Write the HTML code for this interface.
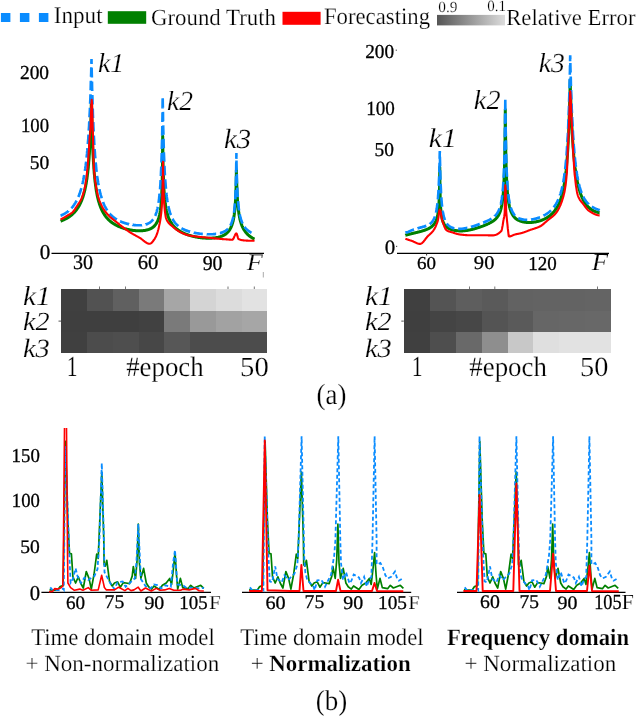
<!DOCTYPE html><html><head><meta charset="utf-8"><style>html,body{margin:0;padding:0;background:#fff;width:638px;height:716px;overflow:hidden;position:relative}</style></head><body><svg width="638" height="716" viewBox="0 0 638 716" style="display:block;position:absolute;left:0;top:0">
<defs><linearGradient id="gr" x1="0" x2="1" y1="0" y2="0"><stop offset="0" stop-color="#555"/><stop offset="1" stop-color="#dcdcdc"/></linearGradient>
<clipPath id="cb1"><rect x="0" y="428" width="638" height="300"/></clipPath>
<clipPath id="cb2"><rect x="0" y="436" width="638" height="300"/></clipPath>
</defs>
<line x1="0.9" y1="17.5" x2="58" y2="17.5" stroke="#0a8cff" stroke-width="9.2" stroke-dasharray="9.5 9.5"/>
<rect x="107.8" y="11.2" width="38.4" height="12.6" fill="#008000"/>
<rect x="282.5" y="11.8" width="38.1" height="13" fill="#ff0000"/>
<rect x="437" y="14.9" width="68" height="10.5" fill="url(#gr)"/>
<line x1="51.5" y1="253.3" x2="264" y2="253.3" stroke="#000" stroke-width="1.2"/>
<polyline points="60.6,221.2 60.8,221.1 60.9,221.0 61.1,221.0 61.2,220.9 61.4,220.8 61.6,220.8 61.7,220.7 61.9,220.7 62.1,220.6 62.2,220.5 62.4,220.4 62.5,220.4 62.7,220.3 62.9,220.2 63.0,220.2 63.2,220.1 63.3,220.0 63.5,219.9 63.7,219.9 63.8,219.8 64.0,219.7 64.2,219.6 64.3,219.6 64.5,219.5 64.6,219.4 64.8,219.3 65.0,219.2 65.1,219.2 65.3,219.1 65.5,219.0 65.6,218.9 65.8,218.8 65.9,218.7 66.1,218.6 66.3,218.6 66.4,218.5 66.6,218.4 66.7,218.3 66.9,218.2 67.1,218.1 67.2,218.0 67.4,217.9 67.6,217.8 67.7,217.7 67.9,217.6 68.0,217.5 68.2,217.4 68.4,217.3 68.5,217.2 68.7,217.1 68.8,217.0 69.0,216.9 69.2,216.8 69.3,216.6 69.5,216.5 69.7,216.4 69.8,216.3 70.0,216.2 70.1,216.1 70.3,215.9 70.5,215.8 70.6,215.7 70.8,215.6 70.9,215.4 71.1,215.3 71.3,215.2 71.4,215.1 71.6,214.9 71.8,214.8 71.9,214.6 72.1,214.5 72.2,214.4 72.4,214.2 72.6,214.1 72.7,213.9 72.9,213.8 73.1,213.6 73.2,213.5 73.4,213.3 73.5,213.2 73.7,213.0 73.9,212.8 74.0,212.7 74.2,212.5 74.3,212.3 74.5,212.1 74.7,212.0 74.8,211.8 75.0,211.6 75.2,211.4 75.3,211.2 75.5,211.0 75.6,210.8 75.8,210.7 76.0,210.5 76.1,210.2 76.3,210.0 76.4,209.8 76.6,209.6 76.8,209.4 76.9,209.2 77.1,208.9 77.3,208.7 77.4,208.5 77.6,208.2 77.7,208.0 77.9,207.8 78.1,207.5 78.2,207.2 78.4,207.0 78.6,206.7 78.7,206.4 78.9,206.2 79.0,205.9 79.2,205.6 79.4,205.3 79.5,205.0 79.7,204.7 79.8,204.4 80.0,204.1 80.2,203.7 80.3,203.4 80.5,203.1 80.7,202.7 80.8,202.4 81.0,202.0 81.1,201.6 81.3,201.2 81.5,200.9 81.6,200.5 81.8,200.1 81.9,199.6 82.1,199.2 82.3,198.8 82.4,198.3 82.6,197.9 82.8,197.4 82.9,196.9 83.1,196.4 83.2,195.9 83.4,195.4 83.6,194.8 83.7,194.3 83.9,193.7 84.0,193.1 84.2,192.5 84.4,191.9 84.5,191.2 84.7,190.6 84.9,189.9 85.0,189.2 85.2,188.4 85.3,187.7 85.5,186.9 85.7,186.1 85.8,185.2 86.0,184.4 86.2,183.5 86.3,182.5 86.5,181.5 86.6,180.5 86.8,179.5 87.0,178.4 87.1,177.2 87.3,176.0 87.4,174.8 87.6,173.5 87.8,172.1 87.9,170.7 88.1,169.2 88.3,167.6 88.4,165.9 88.6,164.1 88.7,162.3 88.9,160.3 89.1,158.2 89.2,156.0 89.4,153.6 89.5,151.1 89.7,148.4 89.9,145.5 90.0,142.4 90.2,139.0 90.4,135.3 90.5,131.3 90.7,127.0 90.8,122.2 91.0,116.9 91.2,111.1 91.3,104.5 91.5,97.1 91.5,96.6 91.6,105.9 91.8,114.6 92.0,122.1 92.1,128.6 92.3,134.3 92.5,139.4 92.6,144.0 92.8,148.1 92.9,151.9 93.1,155.3 93.3,158.4 93.4,161.3 93.6,163.9 93.8,166.4 93.9,168.7 94.1,170.8 94.2,172.8 94.4,174.7 94.6,176.4 94.7,178.1 94.9,179.7 95.0,181.1 95.2,182.5 95.4,183.9 95.5,185.1 95.7,186.3 95.9,187.5 96.0,188.6 96.2,189.6 96.3,190.6 96.5,191.6 96.7,192.5 96.8,193.4 97.0,194.2 97.1,195.0 97.3,195.8 97.5,196.6 97.6,197.3 97.8,198.0 98.0,198.7 98.1,199.3 98.3,200.0 98.4,200.6 98.6,201.2 98.8,201.7 98.9,202.3 99.1,202.8 99.3,203.4 99.4,203.9 99.6,204.4 99.7,204.8 99.9,205.3 100.1,205.8 100.2,206.2 100.4,206.6 100.5,207.0 100.7,207.5 100.9,207.9 101.0,208.2 101.2,208.6 101.4,209.0 101.5,209.4 101.7,209.7 101.8,210.0 102.0,210.4 102.2,210.7 102.3,211.0 102.5,211.3 102.6,211.7 102.8,212.0 103.0,212.3 103.1,212.5 103.3,212.8 103.5,213.1 103.6,213.4 103.8,213.6 103.9,213.9 104.1,214.2 104.3,214.4 104.4,214.7 104.6,214.9 104.7,215.1 104.9,215.4 105.1,215.6 105.2,215.8 105.4,216.0 105.6,216.3 105.7,216.5 105.9,216.7 106.0,216.9 106.2,217.1 106.4,217.3 106.5,217.5 106.7,217.7 106.9,217.9 107.0,218.0 107.2,218.2 107.3,218.4 107.5,218.6 107.7,218.8 107.8,218.9 108.0,219.1 108.1,219.3 108.3,219.4 108.5,219.6 108.6,219.7 108.8,219.9 109.0,220.1 109.1,220.2 109.3,220.4 109.4,220.5 109.6,220.7 109.8,220.8 109.9,220.9 110.1,221.1 110.2,221.2 110.4,221.4 110.6,221.5 110.7,221.6 110.9,221.7 111.1,221.9 111.2,222.0 111.4,222.1 111.5,222.3 111.7,222.4 111.9,222.5 112.0,222.6 112.2,222.7 112.3,222.8 112.5,223.0 112.7,223.1 112.8,223.2 113.0,223.3 113.2,223.4 113.3,223.5 113.5,223.6 113.6,223.7 113.8,223.8 114.0,223.9 114.1,224.0 114.3,224.1 114.5,224.2 114.6,224.3 114.8,224.4 114.9,224.5 115.1,224.6 115.3,224.7 115.4,224.8 115.6,224.9 115.7,225.0 115.9,225.1 116.1,225.2 116.2,225.2 116.4,225.3 116.6,225.4 116.7,225.5 116.9,225.6 117.0,225.7 117.2,225.7 117.4,225.8 117.5,225.9 117.7,226.0 117.8,226.1 118.0,226.1 118.2,226.2 118.3,226.3 118.5,226.4 118.7,226.4 118.8,226.5 119.0,226.6 119.1,226.6 119.3,226.7 119.5,226.8 119.6,226.8 119.8,226.9 120.0,227.0 120.1,227.0 120.3,227.1 120.4,227.2 120.6,227.2 120.8,227.3 120.9,227.4 121.1,227.4 121.2,227.5 121.4,227.5 121.6,227.6 121.7,227.7 121.9,227.7 122.1,227.8 122.2,227.8 122.4,227.9 122.5,228.0 122.7,228.0 122.9,228.1 123.0,228.1 123.2,228.2 123.3,228.2 123.5,228.3 123.7,228.3 123.8,228.4 124.0,228.4 124.2,228.5 124.3,228.5 124.5,228.6 124.6,228.6 124.8,228.7 125.0,228.7 125.1,228.8 125.3,228.8 125.4,228.9 125.6,228.9 125.8,228.9 125.9,229.0 126.1,229.0 126.3,229.1 126.4,229.1 126.6,229.2 126.7,229.2 126.9,229.2 127.1,229.3 127.2,229.3 127.4,229.4 127.6,229.4 127.7,229.4 127.9,229.5 128.0,229.5 128.2,229.5 128.4,229.6 128.5,229.6 128.7,229.6 128.8,229.7 129.0,229.7 129.2,229.7 129.3,229.8 129.5,229.8 129.7,229.8 129.8,229.9 130.0,229.9 130.1,229.9 130.3,230.0 130.5,230.0 130.6,230.0 130.8,230.1 130.9,230.1 131.1,230.1 131.3,230.1 131.4,230.2 131.6,230.2 131.8,230.2 131.9,230.2 132.1,230.3 132.2,230.3 132.4,230.3 132.6,230.3 132.7,230.4 132.9,230.4 133.0,230.4 133.2,230.4 133.4,230.4 133.5,230.5 133.7,230.5 133.9,230.5 134.0,230.5 134.2,230.5 134.3,230.6 134.5,230.6 134.7,230.6 134.8,230.6 135.0,230.6 135.2,230.6 135.3,230.6 135.5,230.7 135.6,230.7 135.8,230.7 136.0,230.7 136.1,230.7 136.3,230.7 136.4,230.7 136.6,230.7 136.8,230.7 136.9,230.8 137.1,230.8 137.3,230.8 137.4,230.8 137.6,230.8 137.7,230.8 137.9,230.8 138.1,230.8 138.2,230.8 138.4,230.8 138.5,230.8 138.7,230.8 138.9,230.8 139.0,230.8 139.2,230.8 139.4,230.8 139.5,230.8 139.7,230.8 139.8,230.8 140.0,230.8 140.2,230.8 140.3,230.8 140.5,230.8 140.7,230.8 140.8,230.8 141.0,230.8 141.1,230.8 141.3,230.8 141.5,230.8 141.6,230.8 141.8,230.8 141.9,230.7 142.1,230.7 142.3,230.7 142.4,230.7 142.6,230.7 142.8,230.7 142.9,230.7 143.1,230.6 143.2,230.6 143.4,230.6 143.6,230.6 143.7,230.6 143.9,230.6 144.0,230.5 144.2,230.5 144.4,230.5 144.5,230.5 144.7,230.4 144.9,230.4 145.0,230.4 145.2,230.4 145.3,230.3 145.5,230.3 145.7,230.3 145.8,230.2 146.0,230.2 146.1,230.2 146.3,230.1 146.5,230.1 146.6,230.1 146.8,230.0 147.0,230.0 147.1,229.9 147.3,229.9 147.4,229.8 147.6,229.8 147.8,229.8 147.9,229.7 148.1,229.7 148.3,229.6 148.4,229.6 148.6,229.5 148.7,229.4 148.9,229.4 149.1,229.3 149.2,229.3 149.4,229.2 149.5,229.1 149.7,229.1 149.9,229.0 150.0,228.9 150.2,228.9 150.4,228.8 150.5,228.7 150.7,228.6 150.8,228.5 151.0,228.5 151.2,228.4 151.3,228.3 151.5,228.2 151.6,228.1 151.8,228.0 152.0,227.9 152.1,227.8 152.3,227.7 152.5,227.6 152.6,227.5 152.8,227.3 152.9,227.2 153.1,227.1 153.3,227.0 153.4,226.8 153.6,226.7 153.7,226.6 153.9,226.4 154.1,226.3 154.2,226.1 154.4,225.9 154.6,225.8 154.7,225.6 154.9,225.4 155.0,225.2 155.2,225.0 155.4,224.8 155.5,224.6 155.7,224.4 155.9,224.2 156.0,224.0 156.2,223.7 156.3,223.5 156.5,223.2 156.7,222.9 156.8,222.7 157.0,222.4 157.1,222.1 157.3,221.7 157.5,221.4 157.6,221.0 157.8,220.7 158.0,220.3 158.1,219.9 158.3,219.4 158.4,219.0 158.6,218.5 158.8,218.0 158.9,217.4 159.1,216.8 159.2,216.2 159.4,215.5 159.6,214.8 159.7,214.0 159.9,213.2 160.1,212.3 160.2,211.3 160.4,210.2 160.5,209.0 160.7,207.7 160.9,206.3 161.0,204.6 161.2,202.8 161.4,200.6 161.5,198.2 161.7,195.2 161.8,191.7 162.0,187.3 162.2,181.8 162.3,174.2 162.5,163.4 162.6,145.5 162.7,136.1 162.8,146.6 163.0,158.2 163.1,166.5 163.3,172.9 163.5,178.0 163.6,182.2 163.8,185.7 163.9,188.7 164.1,191.3 164.3,193.6 164.4,195.7 164.6,197.5 164.7,199.2 164.9,200.7 165.1,202.1 165.2,203.3 165.4,204.5 165.6,205.6 165.7,206.6 165.9,207.6 166.0,208.5 166.2,209.3 166.4,210.1 166.5,210.8 166.7,211.5 166.8,212.2 167.0,212.8 167.2,213.5 167.3,214.0 167.5,214.6 167.7,215.1 167.8,215.6 168.0,216.1 168.1,216.6 168.3,217.0 168.5,217.4 168.6,217.9 168.8,218.3 169.0,218.6 169.1,219.0 169.3,219.4 169.4,219.7 169.6,220.1 169.8,220.4 169.9,220.7 170.1,221.0 170.2,221.3 170.4,221.6 170.6,221.9 170.7,222.2 170.9,222.4 171.1,222.7 171.2,222.9 171.4,223.2 171.5,223.4 171.7,223.7 171.9,223.9 172.0,224.1 172.2,224.3 172.3,224.6 172.5,224.8 172.7,225.0 172.8,225.2 173.0,225.4 173.2,225.6 173.3,225.8 173.5,225.9 173.6,226.1 173.8,226.3 174.0,226.5 174.1,226.6 174.3,226.8 174.4,227.0 174.6,227.1 174.8,227.3 174.9,227.4 175.1,227.6 175.3,227.8 175.4,227.9 175.6,228.0 175.7,228.2 175.9,228.3 176.1,228.5 176.2,228.6 176.4,228.7 176.6,228.9 176.7,229.0 176.9,229.1 177.0,229.3 177.2,229.4 177.4,229.5 177.5,229.6 177.7,229.7 177.8,229.9 178.0,230.0 178.2,230.1 178.3,230.2 178.5,230.3 178.7,230.4 178.8,230.5 179.0,230.6 179.1,230.7 179.3,230.8 179.5,230.9 179.6,231.0 179.8,231.1 179.9,231.2 180.1,231.3 180.3,231.4 180.4,231.5 180.6,231.6 180.8,231.7 180.9,231.8 181.1,231.9 181.2,232.0 181.4,232.0 181.6,232.1 181.7,232.2 181.9,232.3 182.1,232.4 182.2,232.5 182.4,232.5 182.5,232.6 182.7,232.7 182.9,232.8 183.0,232.9 183.2,232.9 183.3,233.0 183.5,233.1 183.7,233.2 183.8,233.2 184.0,233.3 184.2,233.4 184.3,233.4 184.5,233.5 184.6,233.6 184.8,233.7 185.0,233.7 185.1,233.8 185.3,233.9 185.4,233.9 185.6,234.0 185.8,234.0 185.9,234.1 186.1,234.2 186.3,234.2 186.4,234.3 186.6,234.4 186.7,234.4 186.9,234.5 187.1,234.5 187.2,234.6 187.4,234.6 187.5,234.7 187.7,234.8 187.9,234.8 188.0,234.9 188.2,234.9 188.4,235.0 188.5,235.0 188.7,235.1 188.8,235.1 189.0,235.2 189.2,235.2 189.3,235.3 189.5,235.3 189.7,235.4 189.8,235.4 190.0,235.5 190.1,235.5 190.3,235.6 190.5,235.6 190.6,235.7 190.8,235.7 190.9,235.8 191.1,235.8 191.3,235.9 191.4,235.9 191.6,235.9 191.8,236.0 191.9,236.0 192.1,236.1 192.2,236.1 192.4,236.2 192.6,236.2 192.7,236.2 192.9,236.3 193.0,236.3 193.2,236.4 193.4,236.4 193.5,236.4 193.7,236.5 193.9,236.5 194.0,236.5 194.2,236.6 194.3,236.6 194.5,236.6 194.7,236.7 194.8,236.7 195.0,236.8 195.1,236.8 195.3,236.8 195.5,236.9 195.6,236.9 195.8,236.9 196.0,236.9 196.1,237.0 196.3,237.0 196.4,237.0 196.6,237.1 196.8,237.1 196.9,237.1 197.1,237.2 197.3,237.2 197.4,237.2 197.6,237.2 197.7,237.3 197.9,237.3 198.1,237.3 198.2,237.4 198.4,237.4 198.5,237.4 198.7,237.4 198.9,237.5 199.0,237.5 199.2,237.5 199.4,237.5 199.5,237.5 199.7,237.6 199.8,237.6 200.0,237.6 200.2,237.6 200.3,237.7 200.5,237.7 200.6,237.7 200.8,237.7 201.0,237.7 201.1,237.8 201.3,237.8 201.5,237.8 201.6,237.8 201.8,237.8 201.9,237.8 202.1,237.9 202.3,237.9 202.4,237.9 202.6,237.9 202.8,237.9 202.9,237.9 203.1,238.0 203.2,238.0 203.4,238.0 203.6,238.0 203.7,238.0 203.9,238.0 204.0,238.0 204.2,238.1 204.4,238.1 204.5,238.1 204.7,238.1 204.9,238.1 205.0,238.1 205.2,238.1 205.3,238.1 205.5,238.1 205.7,238.1 205.8,238.2 206.0,238.2 206.1,238.2 206.3,238.2 206.5,238.2 206.6,238.2 206.8,238.2 207.0,238.2 207.1,238.2 207.3,238.2 207.4,238.2 207.6,238.2 207.8,238.2 207.9,238.2 208.1,238.2 208.2,238.2 208.4,238.2 208.6,238.2 208.7,238.2 208.9,238.2 209.1,238.2 209.2,238.2 209.4,238.2 209.5,238.2 209.7,238.2 209.9,238.2 210.0,238.2 210.2,238.2 210.4,238.2 210.5,238.2 210.7,238.2 210.8,238.2 211.0,238.2 211.2,238.2 211.3,238.2 211.5,238.2 211.6,238.2 211.8,238.1 212.0,238.1 212.1,238.1 212.3,238.1 212.5,238.1 212.6,238.1 212.8,238.1 212.9,238.1 213.1,238.1 213.3,238.0 213.4,238.0 213.6,238.0 213.7,238.0 213.9,238.0 214.1,238.0 214.2,237.9 214.4,237.9 214.6,237.9 214.7,237.9 214.9,237.9 215.0,237.8 215.2,237.8 215.4,237.8 215.5,237.8 215.7,237.7 215.8,237.7 216.0,237.7 216.2,237.7 216.3,237.6 216.5,237.6 216.7,237.6 216.8,237.6 217.0,237.5 217.1,237.5 217.3,237.5 217.5,237.4 217.6,237.4 217.8,237.4 218.0,237.3 218.1,237.3 218.3,237.3 218.4,237.2 218.6,237.2 218.8,237.1 218.9,237.1 219.1,237.1 219.2,237.0 219.4,237.0 219.6,236.9 219.7,236.9 219.9,236.8 220.1,236.8 220.2,236.7 220.4,236.7 220.5,236.6 220.7,236.6 220.9,236.5 221.0,236.5 221.2,236.4 221.3,236.3 221.5,236.3 221.7,236.2 221.8,236.1 222.0,236.1 222.2,236.0 222.3,235.9 222.5,235.9 222.6,235.8 222.8,235.7 223.0,235.6 223.1,235.6 223.3,235.5 223.5,235.4 223.6,235.3 223.8,235.2 223.9,235.1 224.1,235.1 224.3,235.0 224.4,234.9 224.6,234.8 224.7,234.7 224.9,234.6 225.1,234.5 225.2,234.4 225.4,234.2 225.6,234.1 225.7,234.0 225.9,233.9 226.0,233.8 226.2,233.6 226.4,233.5 226.5,233.4 226.7,233.2 226.8,233.1 227.0,233.0 227.2,232.8 227.3,232.6 227.5,232.5 227.7,232.3 227.8,232.2 228.0,232.0 228.1,231.8 228.3,231.6 228.5,231.4 228.6,231.2 228.8,231.0 228.9,230.8 229.1,230.6 229.3,230.4 229.4,230.1 229.6,229.9 229.8,229.6 229.9,229.4 230.1,229.1 230.2,228.8 230.4,228.5 230.6,228.2 230.7,227.9 230.9,227.6 231.1,227.2 231.2,226.9 231.4,226.5 231.5,226.1 231.7,225.7 231.9,225.3 232.0,224.8 232.2,224.3 232.3,223.8 232.5,223.3 232.7,222.7 232.8,222.1 233.0,221.5 233.2,220.8 233.3,220.1 233.5,219.3 233.6,218.5 233.8,217.6 234.0,216.6 234.1,215.6 234.3,214.4 234.4,213.2 234.6,211.8 234.8,210.3 234.9,208.6 235.1,206.6 235.3,204.5 235.4,202.0 235.6,199.1 235.7,195.6 235.9,191.5 236.1,186.3 236.2,179.7 236.4,170.7 236.4,169.9 236.5,176.9 236.7,182.8 236.9,187.6 237.0,191.6 237.2,194.9 237.4,197.8 237.5,200.3 237.7,202.5 237.8,204.5 238.0,206.3 238.2,207.9 238.3,209.4 238.5,210.7 238.7,211.9 238.8,213.1 239.0,214.1 239.1,215.1 239.3,216.0 239.5,216.9 239.6,217.7 239.8,218.4 239.9,219.2 240.1,219.8 240.3,220.5 240.4,221.1 240.6,221.7 240.8,222.2 240.9,222.8 241.1,223.3 241.2,223.8 241.4,224.2 241.6,224.7 241.7,225.1 241.9,225.5 242.0,225.9 242.2,226.3 242.4,226.7 242.5,227.0 242.7,227.4 242.9,227.7 243.0,228.0 243.2,228.3 243.3,228.6 243.5,228.9 243.7,229.2 243.8,229.5 244.0,229.8 244.2,230.0 244.3,230.3 244.5,230.5 244.6,230.8 244.8,231.0 245.0,231.2 245.1,231.5 245.3,231.7 245.4,231.9 245.6,232.1 245.8,232.3 245.9,232.5 246.1,232.7 246.3,232.9 246.4,233.1 246.6,233.3 246.7,233.4 246.9,233.6 247.1,233.8 247.2,233.9 247.4,234.1 247.5,234.3 247.7,234.4 247.9,234.6 248.0,234.7 248.2,234.9 248.4,235.0 248.5,235.2 248.7,235.3 248.8,235.4 249.0,235.6 249.2,235.7 249.3,235.8 249.5,236.0 249.6,236.1 249.8,236.2 250.0,236.3 250.1,236.5 250.3,236.6 250.5,236.7 250.6,236.8 250.8,236.9 250.9,237.0 251.1,237.1 251.3,237.3 251.4,237.4 251.6,237.5 251.8,237.6 251.9,237.7 252.1,237.8 252.2,237.9 252.4,238.0 252.6,238.1 252.7,238.2 252.9,238.2 253.0,238.3 253.2,238.4 253.4,238.5 253.5,238.6 253.7,238.7 253.9,238.8 254.0,238.9 254.2,239.0 254.3,239.0 254.5,239.1" fill="none" stroke="#008000" stroke-width="3" stroke-linejoin="round"/>
<polyline points="60.6,215.7 60.8,215.6 60.9,215.6 61.1,215.5 61.2,215.4 61.4,215.3 61.6,215.3 61.7,215.2 61.9,215.1 62.1,215.0 62.2,214.9 62.4,214.9 62.5,214.8 62.7,214.7 62.9,214.6 63.0,214.5 63.2,214.5 63.3,214.4 63.5,214.3 63.7,214.2 63.8,214.1 64.0,214.0 64.2,213.9 64.3,213.8 64.5,213.7 64.6,213.7 64.8,213.6 65.0,213.5 65.1,213.4 65.3,213.3 65.5,213.2 65.6,213.1 65.8,213.0 65.9,212.9 66.1,212.7 66.3,212.6 66.4,212.5 66.6,212.4 66.7,212.3 66.9,212.2 67.1,212.1 67.2,212.0 67.4,211.8 67.6,211.7 67.7,211.6 67.9,211.5 68.0,211.3 68.2,211.2 68.4,211.1 68.5,210.9 68.7,210.8 68.8,210.7 69.0,210.5 69.2,210.4 69.3,210.2 69.5,210.1 69.7,210.0 69.8,209.8 70.0,209.7 70.1,209.5 70.3,209.3 70.5,209.2 70.6,209.0 70.8,208.9 70.9,208.7 71.1,208.5 71.3,208.3 71.4,208.2 71.6,208.0 71.8,207.8 71.9,207.6 72.1,207.4 72.2,207.3 72.4,207.1 72.6,206.9 72.7,206.7 72.9,206.5 73.1,206.3 73.2,206.0 73.4,205.8 73.5,205.6 73.7,205.4 73.9,205.2 74.0,204.9 74.2,204.7 74.3,204.5 74.5,204.2 74.7,204.0 74.8,203.7 75.0,203.5 75.2,203.2 75.3,203.0 75.5,202.7 75.6,202.4 75.8,202.1 76.0,201.9 76.1,201.6 76.3,201.3 76.4,201.0 76.6,200.7 76.8,200.4 76.9,200.0 77.1,199.7 77.3,199.4 77.4,199.0 77.6,198.7 77.7,198.3 77.9,198.0 78.1,197.6 78.2,197.3 78.4,196.9 78.6,196.5 78.7,196.1 78.9,195.7 79.0,195.3 79.2,194.8 79.4,194.4 79.5,194.0 79.7,193.5 79.8,193.1 80.0,192.6 80.2,192.1 80.3,191.6 80.5,191.1 80.7,190.6 80.8,190.0 81.0,189.5 81.1,188.9 81.3,188.4 81.5,187.8 81.6,187.2 81.8,186.6 81.9,185.9 82.1,185.3 82.3,184.6 82.4,183.9 82.6,183.2 82.8,182.5 82.9,181.8 83.1,181.0 83.2,180.3 83.4,179.5 83.6,178.6 83.7,177.8 83.9,176.9 84.0,176.0 84.2,175.1 84.4,174.1 84.5,173.2 84.7,172.1 84.9,171.1 85.0,170.0 85.2,168.9 85.3,167.8 85.5,166.6 85.7,165.4 85.8,164.1 86.0,162.8 86.2,161.4 86.3,160.0 86.5,158.6 86.6,157.1 86.8,155.5 87.0,153.9 87.1,152.2 87.3,150.4 87.4,148.6 87.6,146.7 87.8,144.7 87.9,142.7 88.1,140.5 88.3,138.3 88.4,136.0 88.6,133.5 88.7,131.0 88.9,128.3 89.1,125.5 89.2,122.6 89.4,119.5 89.5,116.2 89.7,112.8 89.9,109.2 90.0,105.5 90.2,101.5 90.4,97.2 90.5,92.8 90.7,88.0 90.8,83.0 91.0,77.6 91.2,72.0 91.3,65.9 91.5,59.4 91.5,58.9 91.6,66.7 91.8,74.4 92.0,81.6 92.1,88.1 92.3,94.2 92.5,99.9 92.6,105.2 92.8,110.1 92.9,114.6 93.1,118.9 93.3,123.0 93.4,126.7 93.6,130.3 93.8,133.6 93.9,136.8 94.1,139.8 94.2,142.6 94.4,145.3 94.6,147.9 94.7,150.3 94.9,152.6 95.0,154.8 95.2,156.8 95.4,158.8 95.5,160.7 95.7,162.6 95.9,164.3 96.0,166.0 96.2,167.5 96.3,169.1 96.5,170.5 96.7,172.0 96.8,173.3 97.0,174.6 97.1,175.9 97.3,177.1 97.5,178.2 97.6,179.3 97.8,180.4 98.0,181.5 98.1,182.5 98.3,183.4 98.4,184.4 98.6,185.3 98.8,186.2 98.9,187.0 99.1,187.8 99.3,188.6 99.4,189.4 99.6,190.2 99.7,190.9 99.9,191.6 100.1,192.3 100.2,193.0 100.4,193.6 100.5,194.2 100.7,194.9 100.9,195.4 101.0,196.0 101.2,196.6 101.4,197.1 101.5,197.7 101.7,198.2 101.8,198.7 102.0,199.2 102.2,199.7 102.3,200.2 102.5,200.6 102.6,201.1 102.8,201.5 103.0,201.9 103.1,202.3 103.3,202.7 103.5,203.1 103.6,203.5 103.8,203.9 103.9,204.3 104.1,204.7 104.3,205.0 104.4,205.4 104.6,205.7 104.7,206.0 104.9,206.4 105.1,206.7 105.2,207.0 105.4,207.3 105.6,207.6 105.7,207.9 105.9,208.2 106.0,208.5 106.2,208.7 106.4,209.0 106.5,209.3 106.7,209.5 106.9,209.8 107.0,210.0 107.2,210.3 107.3,210.5 107.5,210.8 107.7,211.0 107.8,211.2 108.0,211.5 108.1,211.7 108.3,211.9 108.5,212.1 108.6,212.3 108.8,212.5 109.0,212.7 109.1,212.9 109.3,213.1 109.4,213.3 109.6,213.5 109.8,213.7 109.9,213.9 110.1,214.0 110.2,214.2 110.4,214.4 110.6,214.6 110.7,214.7 110.9,214.9 111.1,215.1 111.2,215.2 111.4,215.4 111.5,215.5 111.7,215.7 111.9,215.8 112.0,216.0 112.2,216.1 112.3,216.3 112.5,216.4 112.7,216.6 112.8,216.7 113.0,216.8 113.2,217.0 113.3,217.1 113.5,217.2 113.6,217.4 113.8,217.5 114.0,217.6 114.1,217.7 114.3,217.8 114.5,218.0 114.6,218.1 114.8,218.2 114.9,218.3 115.1,218.4 115.3,218.5 115.4,218.6 115.6,218.8 115.7,218.9 115.9,219.0 116.1,219.1 116.2,219.2 116.4,219.3 116.6,219.4 116.7,219.5 116.9,219.6 117.0,219.7 117.2,219.8 117.4,219.9 117.5,219.9 117.7,220.0 117.8,220.1 118.0,220.2 118.2,220.3 118.3,220.4 118.5,220.5 118.7,220.6 118.8,220.6 119.0,220.7 119.1,220.8 119.3,220.9 119.5,221.0 119.6,221.0 119.8,221.1 120.0,221.2 120.1,221.3 120.3,221.3 120.4,221.4 120.6,221.5 120.8,221.6 120.9,221.6 121.1,221.7 121.2,221.8 121.4,221.8 121.6,221.9 121.7,222.0 121.9,222.0 122.1,222.1 122.2,222.2 122.4,222.2 122.5,222.3 122.7,222.3 122.9,222.4 123.0,222.5 123.2,222.5 123.3,222.6 123.5,222.6 123.7,222.7 123.8,222.7 124.0,222.8 124.2,222.9 124.3,222.9 124.5,223.0 124.6,223.0 124.8,223.1 125.0,223.1 125.1,223.2 125.3,223.2 125.4,223.3 125.6,223.3 125.8,223.4 125.9,223.4 126.1,223.5 126.3,223.5 126.4,223.5 126.6,223.6 126.7,223.6 126.9,223.7 127.1,223.7 127.2,223.8 127.4,223.8 127.6,223.8 127.7,223.9 127.9,223.9 128.0,224.0 128.2,224.0 128.4,224.0 128.5,224.1 128.7,224.1 128.8,224.2 129.0,224.2 129.2,224.2 129.3,224.3 129.5,224.3 129.7,224.3 129.8,224.4 130.0,224.4 130.1,224.4 130.3,224.5 130.5,224.5 130.6,224.5 130.8,224.5 130.9,224.6 131.1,224.6 131.3,224.6 131.4,224.7 131.6,224.7 131.8,224.7 131.9,224.7 132.1,224.8 132.2,224.8 132.4,224.8 132.6,224.8 132.7,224.9 132.9,224.9 133.0,224.9 133.2,224.9 133.4,224.9 133.5,225.0 133.7,225.0 133.9,225.0 134.0,225.0 134.2,225.0 134.3,225.1 134.5,225.1 134.7,225.1 134.8,225.1 135.0,225.1 135.2,225.1 135.3,225.2 135.5,225.2 135.6,225.2 135.8,225.2 136.0,225.2 136.1,225.2 136.3,225.2 136.4,225.2 136.6,225.2 136.8,225.3 136.9,225.3 137.1,225.3 137.3,225.3 137.4,225.3 137.6,225.3 137.7,225.3 137.9,225.3 138.1,225.3 138.2,225.3 138.4,225.3 138.5,225.3 138.7,225.3 138.9,225.3 139.0,225.3 139.2,225.3 139.4,225.3 139.5,225.3 139.7,225.3 139.8,225.3 140.0,225.3 140.2,225.3 140.3,225.3 140.5,225.3 140.7,225.3 140.8,225.3 141.0,225.2 141.1,225.2 141.3,225.2 141.5,225.2 141.6,225.2 141.8,225.2 141.9,225.2 142.1,225.1 142.3,225.1 142.4,225.1 142.6,225.1 142.8,225.1 142.9,225.0 143.1,225.0 143.2,225.0 143.4,225.0 143.6,224.9 143.7,224.9 143.9,224.9 144.0,224.9 144.2,224.8 144.4,224.8 144.5,224.8 144.7,224.7 144.9,224.7 145.0,224.6 145.2,224.6 145.3,224.6 145.5,224.5 145.7,224.5 145.8,224.4 146.0,224.4 146.1,224.3 146.3,224.3 146.5,224.2 146.6,224.2 146.8,224.1 147.0,224.1 147.1,224.0 147.3,223.9 147.4,223.9 147.6,223.8 147.8,223.7 147.9,223.7 148.1,223.6 148.3,223.5 148.4,223.4 148.6,223.3 148.7,223.3 148.9,223.2 149.1,223.1 149.2,223.0 149.4,222.9 149.5,222.8 149.7,222.7 149.9,222.6 150.0,222.5 150.2,222.4 150.4,222.2 150.5,222.1 150.7,222.0 150.8,221.9 151.0,221.7 151.2,221.6 151.3,221.4 151.5,221.3 151.6,221.1 151.8,221.0 152.0,220.8 152.1,220.6 152.3,220.4 152.5,220.3 152.6,220.1 152.8,219.9 152.9,219.7 153.1,219.4 153.3,219.2 153.4,219.0 153.6,218.8 153.7,218.5 153.9,218.2 154.1,218.0 154.2,217.7 154.4,217.4 154.6,217.1 154.7,216.8 154.9,216.4 155.0,216.1 155.2,215.7 155.4,215.4 155.5,215.0 155.7,214.6 155.9,214.1 156.0,213.7 156.2,213.2 156.3,212.7 156.5,212.2 156.7,211.6 156.8,211.1 157.0,210.5 157.1,209.8 157.3,209.2 157.5,208.5 157.6,207.7 157.8,206.9 158.0,206.1 158.1,205.2 158.3,204.3 158.4,203.3 158.6,202.2 158.8,201.1 158.9,199.9 159.1,198.6 159.2,197.2 159.4,195.7 159.6,194.2 159.7,192.4 159.9,190.6 160.1,188.6 160.2,186.4 160.4,184.1 160.5,181.5 160.7,178.7 160.9,175.5 161.0,172.1 161.2,168.3 161.4,164.1 161.5,159.4 161.7,154.1 161.8,148.1 162.0,141.3 162.2,133.5 162.3,124.5 162.5,113.9 162.6,101.5 162.7,96.7 162.8,103.9 163.0,113.7 163.1,122.3 163.3,129.9 163.5,136.6 163.6,142.7 163.8,148.1 163.9,153.0 164.1,157.4 164.3,161.5 164.4,165.2 164.6,168.5 164.7,171.7 164.9,174.5 165.1,177.2 165.2,179.6 165.4,181.9 165.6,184.0 165.7,186.0 165.9,187.9 166.0,189.6 166.2,191.3 166.4,192.8 166.5,194.2 166.7,195.6 166.8,196.9 167.0,198.1 167.2,199.3 167.3,200.4 167.5,201.4 167.7,202.4 167.8,203.3 168.0,204.2 168.1,205.1 168.3,205.9 168.5,206.7 168.6,207.4 168.8,208.1 169.0,208.8 169.1,209.5 169.3,210.1 169.4,210.7 169.6,211.3 169.8,211.8 169.9,212.4 170.1,212.9 170.2,213.4 170.4,213.9 170.6,214.3 170.7,214.8 170.9,215.2 171.1,215.6 171.2,216.0 171.4,216.4 171.5,216.8 171.7,217.1 171.9,217.5 172.0,217.8 172.2,218.2 172.3,218.5 172.5,218.8 172.7,219.1 172.8,219.4 173.0,219.7 173.2,220.0 173.3,220.3 173.5,220.5 173.6,220.8 173.8,221.0 174.0,221.3 174.1,221.5 174.3,221.7 174.4,222.0 174.6,222.2 174.8,222.4 174.9,222.6 175.1,222.8 175.3,223.0 175.4,223.2 175.6,223.4 175.7,223.6 175.9,223.8 176.1,223.9 176.2,224.1 176.4,224.3 176.6,224.5 176.7,224.6 176.9,224.8 177.0,224.9 177.2,225.1 177.4,225.2 177.5,225.4 177.7,225.5 177.8,225.7 178.0,225.8 178.2,226.0 178.3,226.1 178.5,226.2 178.7,226.3 178.8,226.5 179.0,226.6 179.1,226.7 179.3,226.8 179.5,227.0 179.6,227.1 179.8,227.2 179.9,227.3 180.1,227.4 180.3,227.5 180.4,227.6 180.6,227.7 180.8,227.8 180.9,227.9 181.1,228.0 181.2,228.1 181.4,228.2 181.6,228.3 181.7,228.4 181.9,228.5 182.1,228.6 182.2,228.7 182.4,228.8 182.5,228.8 182.7,228.9 182.9,229.0 183.0,229.1 183.2,229.2 183.3,229.3 183.5,229.3 183.7,229.4 183.8,229.5 184.0,229.6 184.2,229.6 184.3,229.7 184.5,229.8 184.6,229.8 184.8,229.9 185.0,230.0 185.1,230.1 185.3,230.1 185.4,230.2 185.6,230.3 185.8,230.3 185.9,230.4 186.1,230.4 186.3,230.5 186.4,230.6 186.6,230.6 186.7,230.7 186.9,230.7 187.1,230.8 187.2,230.9 187.4,230.9 187.5,231.0 187.7,231.0 187.9,231.1 188.0,231.1 188.2,231.2 188.4,231.2 188.5,231.3 188.7,231.3 188.8,231.4 189.0,231.4 189.2,231.5 189.3,231.5 189.5,231.6 189.7,231.6 189.8,231.7 190.0,231.7 190.1,231.8 190.3,231.8 190.5,231.9 190.6,231.9 190.8,232.0 190.9,232.0 191.1,232.0 191.3,232.1 191.4,232.1 191.6,232.2 191.8,232.2 191.9,232.2 192.1,232.3 192.2,232.3 192.4,232.4 192.6,232.4 192.7,232.4 192.9,232.5 193.0,232.5 193.2,232.5 193.4,232.6 193.5,232.6 193.7,232.6 193.9,232.7 194.0,232.7 194.2,232.8 194.3,232.8 194.5,232.8 194.7,232.8 194.8,232.9 195.0,232.9 195.1,232.9 195.3,233.0 195.5,233.0 195.6,233.0 195.8,233.1 196.0,233.1 196.1,233.1 196.3,233.2 196.4,233.2 196.6,233.2 196.8,233.2 196.9,233.3 197.1,233.3 197.3,233.3 197.4,233.3 197.6,233.4 197.7,233.4 197.9,233.4 198.1,233.4 198.2,233.5 198.4,233.5 198.5,233.5 198.7,233.5 198.9,233.6 199.0,233.6 199.2,233.6 199.4,233.6 199.5,233.6 199.7,233.7 199.8,233.7 200.0,233.7 200.2,233.7 200.3,233.7 200.5,233.8 200.6,233.8 200.8,233.8 201.0,233.8 201.1,233.8 201.3,233.9 201.5,233.9 201.6,233.9 201.8,233.9 201.9,233.9 202.1,233.9 202.3,234.0 202.4,234.0 202.6,234.0 202.8,234.0 202.9,234.0 203.1,234.0 203.2,234.0 203.4,234.1 203.6,234.1 203.7,234.1 203.9,234.1 204.0,234.1 204.2,234.1 204.4,234.1 204.5,234.1 204.7,234.1 204.9,234.2 205.0,234.2 205.2,234.2 205.3,234.2 205.5,234.2 205.7,234.2 205.8,234.2 206.0,234.2 206.1,234.2 206.3,234.2 206.5,234.2 206.6,234.2 206.8,234.3 207.0,234.3 207.1,234.3 207.3,234.3 207.4,234.3 207.6,234.3 207.8,234.3 207.9,234.3 208.1,234.3 208.2,234.3 208.4,234.3 208.6,234.3 208.7,234.3 208.9,234.3 209.1,234.3 209.2,234.3 209.4,234.3 209.5,234.3 209.7,234.3 209.9,234.3 210.0,234.3 210.2,234.3 210.4,234.3 210.5,234.3 210.7,234.3 210.8,234.3 211.0,234.3 211.2,234.3 211.3,234.3 211.5,234.3 211.6,234.3 211.8,234.2 212.0,234.2 212.1,234.2 212.3,234.2 212.5,234.2 212.6,234.2 212.8,234.2 212.9,234.2 213.1,234.2 213.3,234.2 213.4,234.2 213.6,234.1 213.7,234.1 213.9,234.1 214.1,234.1 214.2,234.1 214.4,234.1 214.6,234.1 214.7,234.0 214.9,234.0 215.0,234.0 215.2,234.0 215.4,234.0 215.5,234.0 215.7,233.9 215.8,233.9 216.0,233.9 216.2,233.9 216.3,233.8 216.5,233.8 216.7,233.8 216.8,233.8 217.0,233.8 217.1,233.7 217.3,233.7 217.5,233.7 217.6,233.6 217.8,233.6 218.0,233.6 218.1,233.6 218.3,233.5 218.4,233.5 218.6,233.5 218.8,233.4 218.9,233.4 219.1,233.3 219.2,233.3 219.4,233.3 219.6,233.2 219.7,233.2 219.9,233.1 220.1,233.1 220.2,233.1 220.4,233.0 220.5,233.0 220.7,232.9 220.9,232.9 221.0,232.8 221.2,232.8 221.3,232.7 221.5,232.7 221.7,232.6 221.8,232.6 222.0,232.5 222.2,232.4 222.3,232.4 222.5,232.3 222.6,232.3 222.8,232.2 223.0,232.1 223.1,232.1 223.3,232.0 223.5,231.9 223.6,231.8 223.8,231.8 223.9,231.7 224.1,231.6 224.3,231.5 224.4,231.4 224.6,231.3 224.7,231.2 224.9,231.2 225.1,231.1 225.2,231.0 225.4,230.9 225.6,230.8 225.7,230.6 225.9,230.5 226.0,230.4 226.2,230.3 226.4,230.2 226.5,230.1 226.7,229.9 226.8,229.8 227.0,229.7 227.2,229.5 227.3,229.4 227.5,229.2 227.7,229.1 227.8,228.9 228.0,228.8 228.1,228.6 228.3,228.4 228.5,228.2 228.6,228.0 228.8,227.8 228.9,227.6 229.1,227.4 229.3,227.2 229.4,227.0 229.6,226.7 229.8,226.5 229.9,226.2 230.1,226.0 230.2,225.7 230.4,225.4 230.6,225.1 230.7,224.8 230.9,224.5 231.1,224.1 231.2,223.7 231.4,223.4 231.5,223.0 231.7,222.5 231.9,222.1 232.0,221.6 232.2,221.1 232.3,220.6 232.5,220.0 232.7,219.4 232.8,218.8 233.0,218.1 233.2,217.4 233.3,216.6 233.5,215.7 233.6,214.8 233.8,213.8 234.0,212.8 234.1,211.6 234.3,210.3 234.4,208.8 234.6,207.2 234.8,205.5 234.9,203.4 235.1,201.2 235.3,198.5 235.4,195.5 235.6,191.8 235.7,187.5 235.9,182.1 236.1,175.3 236.2,166.5 236.4,154.2 236.4,153.0 236.5,162.7 236.7,170.7 236.9,177.1 237.0,182.3 237.2,186.6 237.4,190.3 237.5,193.4 237.7,196.2 237.8,198.6 238.0,200.7 238.2,202.6 238.3,204.3 238.5,205.9 238.7,207.3 238.8,208.6 239.0,209.8 239.1,210.9 239.3,211.9 239.5,212.9 239.6,213.8 239.8,214.6 239.9,215.4 240.1,216.1 240.3,216.8 240.4,217.5 240.6,218.1 240.8,218.6 240.9,219.2 241.1,219.7 241.2,220.2 241.4,220.7 241.6,221.1 241.7,221.6 241.9,222.0 242.0,222.4 242.2,222.8 242.4,223.1 242.5,223.5 242.7,223.8 242.9,224.1 243.0,224.5 243.2,224.8 243.3,225.1 243.5,225.3 243.7,225.6 243.8,225.9 244.0,226.1 244.2,226.4 244.3,226.6 244.5,226.8 244.6,227.1 244.8,227.3 245.0,227.5 245.1,227.7 245.3,227.9 245.4,228.1 245.6,228.3 245.8,228.4 245.9,228.6 246.1,228.8 246.3,229.0 246.4,229.1 246.6,229.3 246.7,229.4 246.9,229.6 247.1,229.7 247.2,229.9 247.4,230.0 247.5,230.2 247.7,230.3 247.9,230.4 248.0,230.6 248.2,230.7 248.4,230.8 248.5,230.9 248.7,231.0 248.8,231.2 249.0,231.3 249.2,231.4 249.3,231.5 249.5,231.6 249.6,231.7 249.8,231.8 250.0,231.9 250.1,232.0 250.3,232.1 250.5,232.2 250.6,232.3 250.8,232.4 250.9,232.5 251.1,232.5 251.3,232.6 251.4,232.7 251.6,232.8 251.8,232.9 251.9,232.9 252.1,233.0 252.2,233.1 252.4,233.2 252.6,233.3 252.7,233.4 252.9,233.5 253.0,233.6 253.2,233.6 253.4,233.7 253.5,233.8 253.7,233.9 253.9,234.0 254.0,234.1 254.2,234.1 254.3,234.2 254.5,234.3" fill="none" stroke="#0a8cff" stroke-width="2.6" stroke-dasharray="9.5 4"/>
<polyline points="60.6,219.5 60.9,219.3 61.2,219.2 61.6,219.0 61.9,218.8 62.2,218.6 62.5,218.5 62.9,218.3 63.2,218.1 63.5,217.9 63.8,217.7 64.2,217.6 64.5,217.4 64.8,217.2 65.1,217.0 65.5,216.8 65.8,216.6 66.1,216.4 66.4,216.2 66.8,216.0 67.1,215.8 67.4,215.6 67.7,215.4 68.0,215.2 68.4,215.0 68.7,214.8 69.0,214.6 69.3,214.4 69.7,214.2 70.0,214.0 70.0,214.0 70.3,213.8 70.6,213.6 71.0,213.4 71.3,213.2 71.6,213.0 71.9,212.8 72.3,212.5 72.5,212.3 72.6,212.2 72.9,211.9 73.2,211.6 73.5,211.2 73.9,210.8 74.2,210.3 74.5,209.8 74.8,209.4 75.2,208.9 75.5,208.4 75.8,207.8 76.1,207.3 76.5,206.8 76.8,206.3 77.1,205.8 77.3,205.5 77.4,205.3 77.8,204.8 78.1,204.4 78.4,203.9 78.7,203.4 79.1,203.0 79.4,202.5 79.7,202.0 80.0,201.5 80.3,200.9 80.7,200.4 81.0,199.7 81.3,199.1 81.3,199.1 81.6,198.3 82.0,197.5 82.3,196.7 82.6,195.7 82.9,194.7 83.3,193.7 83.6,192.5 83.9,191.4 84.0,191.0 84.2,190.1 84.6,188.7 84.9,187.2 85.2,185.6 85.5,183.8 85.8,181.9 86.2,179.8 86.2,179.6 86.5,177.4 86.8,174.7 87.1,171.7 87.5,168.4 87.8,164.8 88.1,161.0 88.2,160.0 88.4,156.8 88.8,151.7 89.1,146.3 89.4,141.3 89.5,140.0 89.7,137.2 90.1,133.7 90.4,129.8 90.5,128.0 90.7,123.6 91.0,113.9 91.4,104.5 91.7,99.9 91.7,99.9 92.0,103.3 92.3,112.5 92.6,124.6 92.9,134.1 93.0,136.9 93.3,152.7 93.5,160.0 93.6,162.5 93.9,168.2 94.3,172.6 94.6,176.1 94.9,178.9 95.0,179.6 95.2,181.4 95.6,183.7 95.9,185.8 96.2,187.8 96.5,189.6 96.9,191.3 97.2,192.8 97.5,194.2 97.8,195.5 98.1,196.7 98.5,197.8 98.8,198.8 98.9,199.1 99.1,199.7 99.4,200.6 99.8,201.5 100.1,202.3 100.4,203.0 100.7,203.8 101.1,204.5 101.4,205.2 101.7,205.8 102.0,206.5 102.4,207.1 102.7,207.7 103.0,208.2 103.3,208.8 103.7,209.3 104.0,209.8 104.3,210.3 104.6,210.7 104.9,211.2 105.3,211.6 105.6,212.0 105.9,212.4 106.2,212.8 106.2,212.9 106.6,213.2 106.9,213.6 107.2,214.0 107.5,214.4 107.9,214.7 108.2,215.1 108.5,215.4 108.8,215.7 109.2,216.1 109.5,216.4 109.8,216.7 110.1,217.0 110.5,217.3 110.8,217.6 111.1,217.8 111.4,218.1 111.7,218.4 112.1,218.6 112.4,218.9 112.7,219.2 113.0,219.4 113.4,219.7 113.7,219.9 114.0,220.2 114.3,220.4 114.7,220.7 115.0,220.9 115.3,221.2 115.6,221.4 116.0,221.7 116.3,221.9 116.6,222.2 116.9,222.5 117.2,222.7 117.6,223.0 117.6,223.0 117.9,223.2 118.2,223.5 118.5,223.8 118.9,224.0 119.2,224.3 119.5,224.6 119.8,224.8 120.2,225.1 120.5,225.3 120.8,225.6 121.1,225.8 121.5,226.1 121.8,226.4 122.1,226.6 122.4,226.9 122.8,227.1 123.1,227.4 123.4,227.6 123.7,227.9 124.0,228.1 124.4,228.3 124.7,228.6 125.0,228.8 125.3,229.1 125.7,229.3 126.0,229.5 126.3,229.8 126.6,230.0 127.0,230.2 127.3,230.5 127.6,230.7 127.9,230.9 128.3,231.1 128.6,231.4 128.9,231.6 129.2,231.8 129.5,232.0 129.9,232.2 130.0,232.3 130.2,232.4 130.5,232.6 130.8,232.8 131.2,233.0 131.5,233.2 131.8,233.4 132.1,233.6 132.5,233.8 132.8,234.0 133.1,234.2 133.4,234.4 133.8,234.5 134.1,234.7 134.4,234.9 134.7,235.1 135.1,235.2 135.4,235.4 135.7,235.6 136.0,235.8 136.3,236.0 136.7,236.1 137.0,236.3 137.3,236.5 137.6,236.7 138.0,236.8 138.3,237.0 138.6,237.2 138.9,237.4 139.3,237.6 139.6,237.8 139.9,237.9 140.0,238.0 140.2,238.1 140.6,238.3 140.9,238.6 141.2,238.8 141.5,239.0 141.9,239.3 142.2,239.5 142.5,239.8 142.8,240.1 143.1,240.3 143.5,240.6 143.8,240.8 144.1,241.1 144.4,241.4 144.8,241.6 145.1,241.9 145.4,242.1 145.7,242.3 146.1,242.5 146.4,242.7 146.7,242.9 147.0,243.1 147.4,243.3 147.7,243.4 148.0,243.5 148.3,243.6 148.6,243.7 149.0,243.8 149.3,243.8 149.5,243.8 149.6,243.8 149.9,243.7 150.3,243.6 150.6,243.5 150.9,243.3 151.2,243.1 151.6,242.8 151.9,242.5 152.2,242.1 152.5,241.8 152.9,241.4 153.2,240.9 153.5,240.5 153.8,240.0 154.2,239.5 154.5,239.1 154.8,238.6 154.9,238.4 155.1,238.0 155.4,237.5 155.8,236.8 156.1,236.2 156.4,235.4 156.7,234.6 157.1,233.7 157.4,232.7 157.7,231.7 158.0,230.5 158.4,229.3 158.7,228.0 159.0,226.6 159.3,225.1 159.7,223.5 160.0,221.8 160.3,220.1 160.5,218.9 160.6,218.1 160.9,215.7 161.3,212.6 161.6,208.8 161.9,204.1 162.2,199.3 162.2,198.5 162.6,189.8 162.8,179.8 162.9,170.6 163.0,161.9 163.2,174.4 163.3,179.8 163.5,189.5 163.9,198.7 163.9,199.3 164.2,203.3 164.5,207.2 164.8,210.5 165.2,213.3 165.5,215.5 165.8,217.2 166.1,218.4 166.3,218.9 166.5,219.3 166.8,220.0 167.1,220.6 167.4,221.2 167.7,221.7 168.1,222.2 168.4,222.6 168.7,223.0 169.0,223.4 169.4,223.7 169.7,224.1 170.0,224.4 170.3,224.6 170.7,224.9 171.0,225.2 171.3,225.4 171.6,225.7 172.0,225.9 172.3,226.2 172.6,226.5 172.6,226.5 172.9,226.8 173.2,227.1 173.6,227.4 173.9,227.7 174.2,228.0 174.5,228.2 174.9,228.5 175.2,228.8 175.5,229.0 175.8,229.3 176.2,229.5 176.5,229.8 176.8,230.0 177.1,230.2 177.5,230.5 177.8,230.7 178.1,230.9 178.4,231.1 178.8,231.3 179.1,231.5 179.4,231.7 179.7,231.9 180.0,232.0 180.0,232.0 180.4,232.2 180.7,232.3 181.0,232.5 181.3,232.7 181.7,232.8 182.0,233.0 182.3,233.1 182.6,233.3 183.0,233.4 183.3,233.6 183.6,233.7 183.9,233.8 184.3,234.0 184.6,234.1 184.9,234.2 185.2,234.3 185.6,234.5 185.9,234.6 186.2,234.7 186.5,234.8 186.8,234.9 187.2,235.0 187.5,235.1 187.8,235.2 188.1,235.2 188.5,235.3 188.8,235.4 189.1,235.5 189.3,235.5 189.4,235.5 189.8,235.6 190.1,235.6 190.4,235.7 190.7,235.8 191.1,235.8 191.4,235.9 191.7,235.9 192.0,236.0 192.3,236.0 192.7,236.1 193.0,236.1 193.3,236.2 193.6,236.2 194.0,236.3 194.3,236.3 194.6,236.3 194.9,236.4 195.3,236.4 195.6,236.5 195.9,236.5 196.2,236.6 196.6,236.6 196.9,236.6 197.2,236.7 197.5,236.7 197.9,236.7 198.2,236.8 198.5,236.8 198.8,236.8 199.1,236.9 199.5,236.9 199.8,236.9 200.1,237.0 200.4,237.0 200.8,237.0 201.1,237.1 201.4,237.1 201.7,237.1 202.1,237.2 202.4,237.2 202.7,237.2 203.0,237.3 203.4,237.3 203.7,237.3 204.0,237.3 204.3,237.4 204.6,237.4 205.0,237.4 205.3,237.5 205.6,237.5 205.9,237.5 206.3,237.5 206.6,237.6 206.9,237.6 207.2,237.6 207.6,237.7 207.9,237.7 208.2,237.7 208.5,237.8 208.9,237.8 209.2,237.8 209.5,237.9 209.8,237.9 210.0,237.9 210.2,237.9 210.5,237.9 210.8,238.0 211.1,238.0 211.4,238.0 211.8,238.1 212.1,238.1 212.4,238.1 212.7,238.2 213.1,238.2 213.4,238.2 213.7,238.3 214.0,238.3 214.4,238.3 214.7,238.4 215.0,238.4 215.3,238.4 215.7,238.5 216.0,238.5 216.3,238.5 216.6,238.6 217.0,238.6 217.3,238.6 217.6,238.7 217.9,238.7 218.2,238.7 218.6,238.7 218.9,238.8 219.2,238.8 219.5,238.8 219.9,238.9 220.2,238.9 220.5,238.9 220.8,238.9 221.2,239.0 221.5,239.0 221.8,239.0 222.1,239.1 222.5,239.1 222.8,239.1 223.1,239.1 223.4,239.2 223.7,239.2 224.1,239.2 224.4,239.2 224.7,239.3 225.0,239.3 225.4,239.3 225.4,239.3 225.7,239.3 226.0,239.3 226.3,239.4 226.7,239.4 227.0,239.4 227.3,239.4 227.6,239.5 228.0,239.5 228.3,239.5 228.6,239.5 228.9,239.6 229.3,239.6 229.6,239.6 229.9,239.6 230.2,239.6 230.5,239.7 230.9,239.7 231.2,239.7 231.5,239.7 231.8,239.7 232.2,239.7 232.3,239.7 232.5,239.7 232.8,239.4 233.1,239.0 233.5,238.5 233.8,237.8 234.1,237.1 234.4,236.4 234.8,235.6 235.1,234.9 235.4,234.3 235.7,233.9 236.0,233.5 236.4,233.4 236.4,233.4 236.7,233.7 237.0,234.5 237.3,235.7 237.7,236.9 238.0,238.0 238.3,238.8 238.5,239.0 238.6,239.1 239.0,239.2 239.3,239.4 239.6,239.5 239.9,239.6 240.3,239.7 240.6,239.8 240.9,239.9 241.2,240.0 241.6,240.1 241.9,240.1 242.2,240.2 242.5,240.2 242.8,240.3 243.2,240.3 243.5,240.4 243.8,240.4 244.1,240.4 244.5,240.5 244.8,240.5 245.0,240.5 245.1,240.5 245.4,240.5 245.8,240.5 246.1,240.6 246.4,240.6 246.7,240.6 247.1,240.6 247.4,240.6 247.7,240.6 248.0,240.7 248.3,240.7 248.7,240.7 249.0,240.7 249.3,240.7 249.6,240.7 250.0,240.7 250.3,240.7 250.6,240.7 250.9,240.8 251.3,240.8 251.6,240.8 251.9,240.8 252.2,240.8 252.6,240.8 252.9,240.8 253.2,240.8 253.5,240.8 253.9,240.8 254.2,240.8 254.5,240.8" fill="none" stroke="#ff0000" stroke-width="2.1" stroke-linejoin="round"/>
<line x1="397" y1="253.4" x2="609" y2="253.4" stroke="#000" stroke-width="1.2"/>
<polyline points="405.4,235.3 405.6,235.2 405.7,235.2 405.9,235.1 406.0,235.1 406.2,235.0 406.4,235.0 406.5,235.0 406.7,234.9 406.9,234.9 407.0,234.8 407.2,234.8 407.3,234.7 407.5,234.7 407.7,234.7 407.8,234.6 408.0,234.6 408.2,234.5 408.3,234.5 408.5,234.5 408.6,234.4 408.8,234.4 409.0,234.3 409.1,234.3 409.3,234.2 409.4,234.2 409.6,234.2 409.8,234.1 409.9,234.1 410.1,234.0 410.3,234.0 410.4,234.0 410.6,233.9 410.7,233.9 410.9,233.8 411.1,233.8 411.2,233.8 411.4,233.7 411.6,233.7 411.7,233.6 411.9,233.6 412.0,233.6 412.2,233.5 412.4,233.5 412.5,233.5 412.7,233.4 412.9,233.4 413.0,233.3 413.2,233.3 413.3,233.3 413.5,233.2 413.7,233.2 413.8,233.1 414.0,233.1 414.1,233.1 414.3,233.0 414.5,233.0 414.6,232.9 414.8,232.9 415.0,232.9 415.1,232.8 415.3,232.8 415.4,232.8 415.6,232.7 415.8,232.7 415.9,232.6 416.1,232.6 416.3,232.6 416.4,232.5 416.6,232.5 416.7,232.4 416.9,232.4 417.1,232.4 417.2,232.3 417.4,232.3 417.5,232.2 417.7,232.2 417.9,232.2 418.0,232.1 418.2,232.1 418.4,232.0 418.5,232.0 418.7,232.0 418.8,231.9 419.0,231.9 419.2,231.8 419.3,231.8 419.5,231.7 419.7,231.7 419.8,231.7 420.0,231.6 420.1,231.6 420.3,231.5 420.5,231.5 420.6,231.4 420.8,231.4 420.9,231.4 421.1,231.3 421.3,231.3 421.4,231.2 421.6,231.2 421.8,231.1 421.9,231.1 422.1,231.0 422.2,231.0 422.4,230.9 422.6,230.9 422.7,230.8 422.9,230.8 423.1,230.7 423.2,230.7 423.4,230.6 423.5,230.6 423.7,230.5 423.9,230.5 424.0,230.4 424.2,230.4 424.4,230.3 424.5,230.3 424.7,230.2 424.8,230.1 425.0,230.1 425.2,230.0 425.3,230.0 425.5,229.9 425.6,229.9 425.8,229.8 426.0,229.7 426.1,229.7 426.3,229.6 426.5,229.5 426.6,229.5 426.8,229.4 426.9,229.3 427.1,229.3 427.3,229.2 427.4,229.1 427.6,229.1 427.8,229.0 427.9,228.9 428.1,228.8 428.2,228.7 428.4,228.7 428.6,228.6 428.7,228.5 428.9,228.4 429.0,228.3 429.2,228.2 429.4,228.1 429.5,228.1 429.7,228.0 429.9,227.9 430.0,227.8 430.2,227.7 430.3,227.6 430.5,227.5 430.7,227.3 430.8,227.2 431.0,227.1 431.2,227.0 431.3,226.9 431.5,226.8 431.6,226.6 431.8,226.5 432.0,226.4 432.1,226.2 432.3,226.1 432.4,225.9 432.6,225.8 432.8,225.6 432.9,225.5 433.1,225.3 433.3,225.1 433.4,224.9 433.6,224.8 433.7,224.6 433.9,224.4 434.1,224.2 434.2,223.9 434.4,223.7 434.6,223.5 434.7,223.2 434.9,223.0 435.0,222.7 435.2,222.4 435.4,222.1 435.5,221.8 435.7,221.5 435.9,221.1 436.0,220.8 436.2,220.4 436.3,219.9 436.5,219.5 436.7,219.0 436.8,218.5 437.0,218.0 437.1,217.4 437.3,216.7 437.5,216.0 437.6,215.2 437.8,214.4 438.0,213.4 438.1,212.3 438.3,211.1 438.4,209.7 438.6,208.1 438.8,206.2 438.9,204.0 439.1,201.1 439.3,197.5 439.4,192.7 439.6,185.7 439.7,174.2 439.8,167.2 439.9,180.0 440.1,191.4 440.2,198.0 440.4,202.5 440.5,205.8 440.7,208.3 440.9,210.4 441.0,212.1 441.2,213.5 441.4,214.7 441.5,215.8 441.7,216.7 441.8,217.6 442.0,218.3 442.2,219.0 442.3,219.6 442.5,220.2 442.7,220.7 442.8,221.2 443.0,221.6 443.1,222.1 443.3,222.4 443.5,222.8 443.6,223.1 443.8,223.4 443.9,223.7 444.1,224.0 444.3,224.3 444.4,224.5 444.6,224.8 444.8,225.0 444.9,225.2 445.1,225.4 445.2,225.6 445.4,225.8 445.6,226.0 445.7,226.2 445.9,226.4 446.1,226.5 446.2,226.7 446.4,226.8 446.5,227.0 446.7,227.1 446.9,227.2 447.0,227.4 447.2,227.5 447.3,227.6 447.5,227.7 447.7,227.8 447.8,227.9 448.0,228.0 448.2,228.1 448.3,228.2 448.5,228.3 448.6,228.4 448.8,228.5 449.0,228.6 449.1,228.7 449.3,228.7 449.5,228.8 449.6,228.9 449.8,229.0 449.9,229.0 450.1,229.1 450.3,229.2 450.4,229.2 450.6,229.3 450.8,229.4 450.9,229.4 451.1,229.5 451.2,229.5 451.4,229.6 451.6,229.6 451.7,229.7 451.9,229.7 452.0,229.8 452.2,229.8 452.4,229.9 452.5,229.9 452.7,230.0 452.9,230.0 453.0,230.1 453.2,230.1 453.3,230.1 453.5,230.2 453.7,230.2 453.8,230.2 454.0,230.3 454.2,230.3 454.3,230.3 454.5,230.4 454.6,230.4 454.8,230.4 455.0,230.5 455.1,230.5 455.3,230.5 455.4,230.5 455.6,230.6 455.8,230.6 455.9,230.6 456.1,230.6 456.3,230.6 456.4,230.7 456.6,230.7 456.7,230.7 456.9,230.7 457.1,230.7 457.2,230.7 457.4,230.8 457.6,230.8 457.7,230.8 457.9,230.8 458.0,230.8 458.2,230.8 458.4,230.8 458.5,230.8 458.7,230.8 458.8,230.9 459.0,230.9 459.2,230.9 459.3,230.9 459.5,230.9 459.7,230.9 459.8,230.9 460.0,230.9 460.1,230.9 460.3,230.9 460.5,230.9 460.6,230.9 460.8,230.9 461.0,230.9 461.1,230.9 461.3,230.9 461.4,230.9 461.6,230.9 461.8,230.9 461.9,230.9 462.1,230.9 462.3,230.9 462.4,230.9 462.6,230.9 462.7,230.8 462.9,230.8 463.1,230.8 463.2,230.8 463.4,230.8 463.5,230.8 463.7,230.8 463.9,230.8 464.0,230.8 464.2,230.7 464.4,230.7 464.5,230.7 464.7,230.7 464.8,230.7 465.0,230.7 465.2,230.7 465.3,230.6 465.5,230.6 465.7,230.6 465.8,230.6 466.0,230.6 466.1,230.5 466.3,230.5 466.5,230.5 466.6,230.5 466.8,230.5 466.9,230.4 467.1,230.4 467.3,230.4 467.4,230.4 467.6,230.3 467.8,230.3 467.9,230.3 468.1,230.3 468.2,230.2 468.4,230.2 468.6,230.2 468.7,230.1 468.9,230.1 469.1,230.1 469.2,230.0 469.4,230.0 469.5,230.0 469.7,229.9 469.9,229.9 470.0,229.9 470.2,229.8 470.3,229.8 470.5,229.8 470.7,229.7 470.8,229.7 471.0,229.7 471.2,229.6 471.3,229.6 471.5,229.6 471.6,229.5 471.8,229.5 472.0,229.4 472.1,229.4 472.3,229.4 472.5,229.3 472.6,229.3 472.8,229.2 472.9,229.2 473.1,229.2 473.3,229.1 473.4,229.1 473.6,229.0 473.8,229.0 473.9,228.9 474.1,228.9 474.2,228.9 474.4,228.8 474.6,228.8 474.7,228.7 474.9,228.7 475.0,228.6 475.2,228.6 475.4,228.5 475.5,228.5 475.7,228.4 475.9,228.4 476.0,228.3 476.2,228.3 476.3,228.3 476.5,228.2 476.7,228.2 476.8,228.1 477.0,228.1 477.2,228.0 477.3,228.0 477.5,227.9 477.6,227.8 477.8,227.8 478.0,227.7 478.1,227.7 478.3,227.6 478.4,227.6 478.6,227.5 478.8,227.5 478.9,227.4 479.1,227.4 479.3,227.3 479.4,227.3 479.6,227.2 479.7,227.2 479.9,227.1 480.1,227.0 480.2,227.0 480.4,226.9 480.6,226.9 480.7,226.8 480.9,226.8 481.0,226.7 481.2,226.6 481.4,226.6 481.5,226.5 481.7,226.5 481.8,226.4 482.0,226.3 482.2,226.3 482.3,226.2 482.5,226.2 482.7,226.1 482.8,226.0 483.0,226.0 483.1,225.9 483.3,225.9 483.5,225.8 483.6,225.7 483.8,225.7 484.0,225.6 484.1,225.5 484.3,225.5 484.4,225.4 484.6,225.3 484.8,225.3 484.9,225.2 485.1,225.2 485.3,225.1 485.4,225.0 485.6,225.0 485.7,224.9 485.9,224.8 486.1,224.7 486.2,224.7 486.4,224.6 486.5,224.5 486.7,224.5 486.9,224.4 487.0,224.3 487.2,224.3 487.4,224.2 487.5,224.1 487.7,224.0 487.8,224.0 488.0,223.9 488.2,223.8 488.3,223.7 488.5,223.7 488.7,223.6 488.8,223.5 489.0,223.4 489.1,223.3 489.3,223.3 489.5,223.2 489.6,223.1 489.8,223.0 489.9,222.9 490.1,222.8 490.3,222.8 490.4,222.7 490.6,222.6 490.8,222.5 490.9,222.4 491.1,222.3 491.2,222.2 491.4,222.1 491.6,222.0 491.7,221.9 491.9,221.8 492.1,221.7 492.2,221.6 492.4,221.5 492.5,221.4 492.7,221.3 492.9,221.2 493.0,221.1 493.2,221.0 493.3,220.9 493.5,220.8 493.7,220.6 493.8,220.5 494.0,220.4 494.2,220.3 494.3,220.2 494.5,220.0 494.6,219.9 494.8,219.8 495.0,219.6 495.1,219.5 495.3,219.3 495.5,219.2 495.6,219.0 495.8,218.9 495.9,218.7 496.1,218.5 496.3,218.3 496.4,218.2 496.6,218.0 496.8,217.8 496.9,217.6 497.1,217.4 497.2,217.2 497.4,217.0 497.6,216.7 497.7,216.5 497.9,216.3 498.0,216.0 498.2,215.8 498.4,215.5 498.5,215.2 498.7,214.9 498.9,214.6 499.0,214.3 499.2,214.0 499.3,213.6 499.5,213.2 499.7,212.9 499.8,212.5 500.0,212.0 500.2,211.6 500.3,211.1 500.5,210.6 500.6,210.1 500.8,209.5 501.0,208.9 501.1,208.3 501.3,207.6 501.4,206.9 501.6,206.2 501.8,205.3 501.9,204.4 502.1,203.5 502.3,202.4 502.4,201.3 502.6,200.1 502.7,198.7 502.9,197.3 503.1,195.6 503.2,193.8 503.4,191.8 503.6,189.5 503.7,186.9 503.9,183.9 504.0,180.5 504.2,176.6 504.4,171.9 504.5,166.2 504.7,159.4 504.8,150.8 505.0,139.7 505.2,125.1 505.3,109.6 505.3,113.8 505.5,130.1 505.7,142.3 505.8,151.8 506.0,159.4 506.1,165.7 506.3,170.9 506.5,175.3 506.6,179.1 506.8,182.4 507.0,185.2 507.1,187.8 507.3,190.0 507.4,192.1 507.6,193.9 507.8,195.5 507.9,197.0 508.1,198.4 508.2,199.6 508.4,200.8 508.6,201.8 508.7,202.8 508.9,203.7 509.1,204.6 509.2,205.4 509.4,206.1 509.5,206.8 509.7,207.5 509.9,208.1 510.0,208.7 510.2,209.2 510.4,209.8 510.5,210.2 510.7,210.7 510.8,211.2 511.0,211.6 511.2,212.0 511.3,212.4 511.5,212.7 511.7,213.1 511.8,213.4 512.0,213.7 512.1,214.0 512.3,214.3 512.5,214.6 512.6,214.9 512.8,215.1 512.9,215.4 513.1,215.6 513.3,215.9 513.4,216.1 513.6,216.3 513.8,216.5 513.9,216.7 514.1,216.9 514.2,217.1 514.4,217.3 514.6,217.4 514.7,217.6 514.9,217.8 515.1,217.9 515.2,218.1 515.4,218.2 515.5,218.4 515.7,218.5 515.9,218.6 516.0,218.8 516.2,218.9 516.3,219.0 516.5,219.1 516.7,219.2 516.8,219.3 517.0,219.5 517.2,219.6 517.3,219.7 517.5,219.8 517.6,219.9 517.8,219.9 518.0,220.0 518.1,220.1 518.3,220.2 518.5,220.3 518.6,220.4 518.8,220.5 518.9,220.5 519.1,220.6 519.3,220.7 519.4,220.7 519.6,220.8 519.7,220.9 519.9,220.9 520.1,221.0 520.2,221.1 520.4,221.1 520.6,221.2 520.7,221.2 520.9,221.3 521.0,221.3 521.2,221.4 521.4,221.4 521.5,221.5 521.7,221.5 521.9,221.6 522.0,221.6 522.2,221.7 522.3,221.7 522.5,221.8 522.7,221.8 522.8,221.8 523.0,221.9 523.2,221.9 523.3,221.9 523.5,222.0 523.6,222.0 523.8,222.0 524.0,222.1 524.1,222.1 524.3,222.1 524.4,222.1 524.6,222.2 524.8,222.2 524.9,222.2 525.1,222.2 525.3,222.2 525.4,222.3 525.6,222.3 525.7,222.3 525.9,222.3 526.1,222.3 526.2,222.4 526.4,222.4 526.6,222.4 526.7,222.4 526.9,222.4 527.0,222.4 527.2,222.4 527.4,222.4 527.5,222.4 527.7,222.4 527.8,222.5 528.0,222.5 528.2,222.5 528.3,222.5 528.5,222.5 528.7,222.5 528.8,222.5 529.0,222.5 529.1,222.5 529.3,222.5 529.5,222.5 529.6,222.5 529.8,222.5 530.0,222.5 530.1,222.5 530.3,222.5 530.4,222.5 530.6,222.4 530.8,222.4 530.9,222.4 531.1,222.4 531.2,222.4 531.4,222.4 531.6,222.4 531.7,222.4 531.9,222.4 532.1,222.4 532.2,222.3 532.4,222.3 532.5,222.3 532.7,222.3 532.9,222.3 533.0,222.3 533.2,222.2 533.4,222.2 533.5,222.2 533.7,222.2 533.8,222.2 534.0,222.1 534.2,222.1 534.3,222.1 534.5,222.1 534.7,222.0 534.8,222.0 535.0,222.0 535.1,222.0 535.3,221.9 535.5,221.9 535.6,221.9 535.8,221.9 535.9,221.8 536.1,221.8 536.3,221.8 536.4,221.7 536.6,221.7 536.8,221.7 536.9,221.6 537.1,221.6 537.2,221.6 537.4,221.5 537.6,221.5 537.7,221.4 537.9,221.4 538.1,221.4 538.2,221.3 538.4,221.3 538.5,221.2 538.7,221.2 538.9,221.1 539.0,221.1 539.2,221.1 539.3,221.0 539.5,221.0 539.7,220.9 539.8,220.9 540.0,220.8 540.2,220.8 540.3,220.7 540.5,220.7 540.6,220.6 540.8,220.5 541.0,220.5 541.1,220.4 541.3,220.4 541.5,220.3 541.6,220.3 541.8,220.2 541.9,220.1 542.1,220.1 542.3,220.0 542.4,219.9 542.6,219.9 542.7,219.8 542.9,219.7 543.1,219.7 543.2,219.6 543.4,219.5 543.6,219.5 543.7,219.4 543.9,219.3 544.0,219.2 544.2,219.2 544.4,219.1 544.5,219.0 544.7,218.9 544.9,218.9 545.0,218.8 545.2,218.7 545.3,218.6 545.5,218.5 545.7,218.4 545.8,218.3 546.0,218.3 546.2,218.2 546.3,218.1 546.5,218.0 546.6,217.9 546.8,217.8 547.0,217.7 547.1,217.6 547.3,217.5 547.4,217.4 547.6,217.3 547.8,217.2 547.9,217.1 548.1,217.0 548.3,216.8 548.4,216.7 548.6,216.6 548.7,216.5 548.9,216.4 549.1,216.3 549.2,216.2 549.4,216.0 549.6,215.9 549.7,215.8 549.9,215.7 550.0,215.5 550.2,215.4 550.4,215.3 550.5,215.1 550.7,215.0 550.8,214.8 551.0,214.7 551.2,214.6 551.3,214.4 551.5,214.3 551.7,214.1 551.8,214.0 552.0,213.8 552.1,213.6 552.3,213.5 552.5,213.3 552.6,213.2 552.8,213.0 553.0,212.8 553.1,212.6 553.3,212.5 553.4,212.3 553.6,212.1 553.8,211.9 553.9,211.7 554.1,211.5 554.2,211.3 554.4,211.1 554.6,210.9 554.7,210.7 554.9,210.5 555.1,210.3 555.2,210.1 555.4,209.8 555.5,209.6 555.7,209.4 555.9,209.1 556.0,208.9 556.2,208.7 556.4,208.4 556.5,208.1 556.7,207.9 556.8,207.6 557.0,207.3 557.2,207.1 557.3,206.8 557.5,206.5 557.7,206.2 557.8,205.9 558.0,205.6 558.1,205.3 558.3,204.9 558.5,204.6 558.6,204.3 558.8,203.9 558.9,203.5 559.1,203.2 559.3,202.8 559.4,202.4 559.6,202.0 559.8,201.6 559.9,201.2 560.1,200.8 560.2,200.4 560.4,199.9 560.6,199.5 560.7,199.0 560.9,198.5 561.1,198.0 561.2,197.5 561.4,197.0 561.5,196.4 561.7,195.9 561.9,195.3 562.0,194.7 562.2,194.1 562.3,193.5 562.5,192.8 562.7,192.1 562.8,191.5 563.0,190.7 563.2,190.0 563.3,189.2 563.5,188.4 563.6,187.6 563.8,186.8 564.0,185.9 564.1,185.0 564.3,184.0 564.5,183.1 564.6,182.0 564.8,181.0 564.9,179.9 565.1,178.7 565.3,177.5 565.4,176.3 565.6,175.0 565.7,173.6 565.9,172.2 566.1,170.7 566.2,169.1 566.4,167.5 566.6,165.8 566.7,164.0 566.9,162.1 567.0,160.1 567.2,157.9 567.4,155.7 567.5,153.4 567.7,150.9 567.9,148.2 568.0,145.4 568.2,142.4 568.3,139.3 568.5,135.9 568.7,132.3 568.8,128.4 569.0,124.2 569.1,119.8 569.3,114.9 569.5,109.7 569.6,104.1 569.8,97.9 570.0,91.2 570.1,83.9 570.2,80.1 570.3,83.3 570.4,89.1 570.6,94.5 570.8,99.6 570.9,104.4 571.1,108.8 571.3,113.0 571.4,116.9 571.6,120.6 571.7,124.0 571.9,127.3 572.1,130.4 572.2,133.4 572.4,136.1 572.6,138.8 572.7,141.3 572.9,143.7 573.0,146.0 573.2,148.1 573.4,150.2 573.5,152.2 573.7,154.1 573.8,155.9 574.0,157.6 574.2,159.3 574.3,160.8 574.5,162.4 574.7,163.8 574.8,165.2 575.0,166.6 575.1,167.9 575.3,169.2 575.5,170.4 575.6,171.5 575.8,172.6 576.0,173.7 576.1,174.8 576.3,175.8 576.4,176.8 576.6,177.7 576.8,178.6 576.9,179.5 577.1,180.4 577.2,181.2 577.4,182.0 577.6,182.8 577.7,183.5 577.9,184.2 578.1,185.0 578.2,185.6 578.4,186.3 578.5,187.0 578.7,187.6 578.9,188.2 579.0,188.8 579.2,189.4 579.4,190.0 579.5,190.5 579.7,191.0 579.8,191.6 580.0,192.1 580.2,192.6 580.3,193.0 580.5,193.5 580.6,194.0 580.8,194.4 581.0,194.9 581.1,195.3 581.3,195.7 581.5,196.1 581.6,196.5 581.8,196.9 581.9,197.2 582.1,197.6 582.3,198.0 582.4,198.3 582.6,198.7 582.8,199.0 582.9,199.3 583.1,199.7 583.2,200.0 583.4,200.3 583.6,200.6 583.7,200.9 583.9,201.1 584.1,201.4 584.2,201.7 584.4,202.0 584.5,202.2 584.7,202.5 584.9,202.7 585.0,203.0 585.2,203.2 585.3,203.5 585.5,203.7 585.7,203.9 585.8,204.1 586.0,204.4 586.2,204.6 586.3,204.8 586.5,205.0 586.6,205.2 586.8,205.4 587.0,205.6 587.1,205.8 587.3,205.9 587.5,206.1 587.6,206.3 587.8,206.5 587.9,206.7 588.1,206.8 588.3,207.0 588.4,207.1 588.6,207.3 588.7,207.5 588.9,207.6 589.1,207.7 589.2,207.9 589.4,208.0 589.6,208.2 589.7,208.3 589.9,208.4 590.0,208.6 590.2,208.7 590.4,208.8 590.5,209.0 590.7,209.1 590.9,209.2 591.0,209.3 591.2,209.4 591.3,209.5 591.5,209.6 591.7,209.7 591.8,209.8 592.0,210.0 592.1,210.1 592.3,210.1 592.5,210.2 592.6,210.3 592.8,210.4 593.0,210.5 593.1,210.6 593.3,210.7 593.4,210.8 593.6,210.9 593.8,210.9 593.9,211.0 594.1,211.1 594.3,211.2 594.4,211.2 594.6,211.3 594.7,211.4 594.9,211.4 595.1,211.5 595.2,211.6 595.4,211.6 595.6,211.7 595.7,211.8 595.9,211.8 596.0,211.9 596.2,211.9 596.4,212.0 596.5,212.0 596.7,212.1 596.8,212.1 597.0,212.2 597.2,212.2 597.3,212.3 597.5,212.3 597.7,212.3 597.8,212.4 598.0,212.4 598.1,212.5 598.3,212.5 598.5,212.5 598.6,212.6 598.8,212.6 599.0,212.6 599.1,212.7 599.3,212.7 599.4,212.7 599.6,212.7" fill="none" stroke="#008000" stroke-width="3" stroke-linejoin="round"/>
<polyline points="405.4,232.6 405.6,232.5 405.7,232.5 405.9,232.5 406.0,232.5 406.2,232.5 406.4,232.4 406.5,232.4 406.7,232.4 406.9,232.4 407.0,232.4 407.2,232.3 407.3,232.3 407.5,232.3 407.7,232.2 407.8,232.1 408.0,232.0 408.2,232.0 408.3,231.9 408.5,231.8 408.6,231.7 408.8,231.6 409.0,231.6 409.1,231.5 409.3,231.4 409.4,231.3 409.6,231.3 409.8,231.2 409.9,231.1 410.1,231.0 410.3,231.0 410.4,230.9 410.6,230.8 410.7,230.8 410.9,230.7 411.1,230.6 411.2,230.5 411.4,230.5 411.6,230.4 411.7,230.3 411.9,230.3 412.0,230.2 412.2,230.2 412.4,230.1 412.5,230.0 412.7,230.0 412.9,229.9 413.0,229.8 413.2,229.8 413.3,229.7 413.5,229.7 413.7,229.6 413.8,229.6 414.0,229.5 414.1,229.4 414.3,229.4 414.5,229.3 414.6,229.3 414.8,229.2 415.0,229.2 415.1,229.1 415.3,229.1 415.4,229.0 415.6,229.0 415.8,228.9 415.9,228.9 416.1,228.8 416.3,228.8 416.4,228.7 416.6,228.7 416.7,228.6 416.9,228.6 417.1,228.5 417.2,228.5 417.4,228.4 417.5,228.4 417.7,228.3 417.9,228.3 418.0,228.2 418.2,228.2 418.4,228.1 418.5,228.1 418.7,228.0 418.8,228.0 419.0,228.0 419.2,227.9 419.3,227.9 419.5,227.8 419.7,227.8 419.8,227.7 420.0,227.7 420.1,227.6 420.3,227.6 420.5,227.6 420.6,227.5 420.8,227.5 420.9,227.4 421.1,227.4 421.3,227.3 421.4,227.3 421.6,227.2 421.8,227.2 421.9,227.2 422.1,227.1 422.2,227.1 422.4,227.0 422.6,227.0 422.7,226.9 422.9,226.9 423.1,226.8 423.2,226.8 423.4,226.7 423.5,226.7 423.7,226.7 423.9,226.6 424.0,226.6 424.2,226.5 424.4,226.5 424.5,226.4 424.7,226.4 424.8,226.3 425.0,226.2 425.2,226.2 425.3,226.1 425.5,226.1 425.6,226.0 425.8,226.0 426.0,225.9 426.1,225.9 426.3,225.8 426.5,225.7 426.6,225.7 426.8,225.6 426.9,225.5 427.1,225.5 427.3,225.4 427.4,225.3 427.6,225.2 427.8,225.2 427.9,225.1 428.1,225.0 428.2,224.9 428.4,224.8 428.6,224.8 428.7,224.7 428.9,224.6 429.0,224.5 429.2,224.4 429.4,224.3 429.5,224.2 429.7,224.1 429.9,224.0 430.0,223.8 430.2,223.7 430.3,223.6 430.5,223.5 430.7,223.3 430.8,223.2 431.0,223.0 431.2,222.9 431.3,222.7 431.5,222.6 431.6,222.4 431.8,222.2 432.0,222.0 432.1,221.9 432.3,221.7 432.4,221.4 432.6,221.2 432.8,221.0 432.9,220.7 433.1,220.5 433.3,220.2 433.4,219.9 433.6,219.7 433.7,219.3 433.9,219.0 434.1,218.7 434.2,218.3 434.4,217.9 434.6,217.5 434.7,217.1 434.9,216.6 435.0,216.2 435.2,215.6 435.4,215.1 435.5,214.5 435.7,213.9 435.9,213.2 436.0,212.5 436.2,211.8 436.3,211.0 436.5,210.1 436.7,209.1 436.8,208.1 437.0,207.0 437.1,205.8 437.3,204.5 437.5,203.1 437.6,201.6 437.8,199.9 438.0,198.0 438.1,195.9 438.3,193.7 438.4,191.1 438.6,188.3 438.8,185.1 438.9,181.5 439.1,177.5 439.3,172.8 439.4,167.5 439.6,161.4 439.7,154.2 439.8,151.1 439.9,156.6 440.1,164.4 440.2,170.9 440.4,176.5 440.5,181.3 440.7,185.4 440.9,189.1 441.0,192.3 441.2,195.1 441.4,197.6 441.5,199.8 441.7,201.8 441.8,203.6 442.0,205.3 442.2,206.8 442.3,208.1 442.5,209.4 442.7,210.5 442.8,211.5 443.0,212.5 443.1,213.4 443.3,214.2 443.5,215.0 443.6,215.7 443.8,216.4 443.9,217.0 444.1,217.6 444.3,218.1 444.4,218.6 444.6,219.1 444.8,219.6 444.9,220.0 445.1,220.4 445.2,220.8 445.4,221.1 445.6,221.5 445.7,221.8 445.9,222.1 446.1,222.4 446.2,222.7 446.4,222.9 446.5,223.2 446.7,223.4 446.9,223.7 447.0,223.9 447.2,224.1 447.3,224.3 447.5,224.5 447.7,224.7 447.8,224.8 448.0,225.0 448.2,225.2 448.3,225.3 448.5,225.5 448.6,225.6 448.8,225.8 449.0,225.9 449.1,226.0 449.3,226.2 449.5,226.3 449.6,226.4 449.8,226.5 449.9,226.6 450.1,226.7 450.3,226.8 450.4,226.9 450.6,227.0 450.8,227.1 450.9,227.2 451.1,227.3 451.2,227.3 451.4,227.4 451.6,227.5 451.7,227.6 451.9,227.6 452.0,227.7 452.2,227.8 452.4,227.8 452.5,227.9 452.7,227.9 452.9,228.0 453.0,228.0 453.2,228.1 453.3,228.1 453.5,228.2 453.7,228.2 453.8,228.3 454.0,228.3 454.2,228.4 454.3,228.4 454.5,228.4 454.6,228.5 454.8,228.5 455.0,228.5 455.1,228.6 455.3,228.6 455.4,228.6 455.6,228.7 455.8,228.7 455.9,228.7 456.1,228.7 456.3,228.7 456.4,228.8 456.6,228.8 456.7,228.8 456.9,228.8 457.1,228.8 457.2,228.8 457.4,228.9 457.6,228.9 457.7,228.9 457.9,228.9 458.0,228.9 458.2,228.9 458.4,228.9 458.5,228.9 458.7,228.9 458.8,228.9 459.0,228.9 459.2,228.9 459.3,228.9 459.5,228.9 459.7,228.9 459.8,228.9 460.0,228.9 460.1,228.9 460.3,228.9 460.5,228.9 460.6,228.9 460.8,228.9 461.0,228.9 461.1,228.8 461.3,228.8 461.4,228.8 461.6,228.8 461.8,228.8 461.9,228.8 462.1,228.8 462.3,228.7 462.4,228.7 462.6,228.7 462.7,228.7 462.9,228.7 463.1,228.7 463.2,228.6 463.4,228.6 463.5,228.6 463.7,228.6 463.9,228.5 464.0,228.5 464.2,228.5 464.4,228.5 464.5,228.4 464.7,228.4 464.8,228.4 465.0,228.4 465.2,228.3 465.3,228.3 465.5,228.3 465.7,228.2 465.8,228.2 466.0,228.2 466.1,228.1 466.3,228.1 466.5,228.1 466.6,228.0 466.8,228.0 466.9,228.0 467.1,227.9 467.3,227.9 467.4,227.9 467.6,227.8 467.8,227.8 467.9,227.8 468.1,227.7 468.2,227.7 468.4,227.6 468.6,227.6 468.7,227.6 468.9,227.5 469.1,227.5 469.2,227.4 469.4,227.4 469.5,227.3 469.7,227.3 469.9,227.3 470.0,227.2 470.2,227.2 470.3,227.1 470.5,227.1 470.7,227.0 470.8,227.0 471.0,227.0 471.2,226.9 471.3,226.9 471.5,226.8 471.6,226.8 471.8,226.7 472.0,226.7 472.1,226.6 472.3,226.6 472.5,226.5 472.6,226.5 472.8,226.4 472.9,226.4 473.1,226.3 473.3,226.3 473.4,226.2 473.6,226.2 473.8,226.1 473.9,226.1 474.1,226.0 474.2,226.0 474.4,225.9 474.6,225.9 474.7,225.8 474.9,225.7 475.0,225.7 475.2,225.6 475.4,225.6 475.5,225.5 475.7,225.5 475.9,225.4 476.0,225.4 476.2,225.3 476.3,225.3 476.5,225.2 476.7,225.1 476.8,225.1 477.0,225.0 477.2,225.0 477.3,224.9 477.5,224.9 477.6,224.8 477.8,224.7 478.0,224.7 478.1,224.6 478.3,224.6 478.4,224.5 478.6,224.4 478.8,224.4 478.9,224.3 479.1,224.3 479.3,224.2 479.4,224.1 479.6,224.1 479.7,224.0 479.9,224.0 480.1,223.9 480.2,223.8 480.4,223.8 480.6,223.7 480.7,223.7 480.9,223.6 481.0,223.5 481.2,223.5 481.4,223.4 481.5,223.3 481.7,223.3 481.8,223.2 482.0,223.1 482.2,223.1 482.3,223.0 482.5,223.0 482.7,222.9 482.8,222.8 483.0,222.8 483.1,222.7 483.3,222.6 483.5,222.6 483.6,222.5 483.8,222.4 484.0,222.4 484.1,222.3 484.3,222.2 484.4,222.2 484.6,222.1 484.8,222.0 484.9,221.9 485.1,221.9 485.3,221.8 485.4,221.7 485.6,221.7 485.7,221.6 485.9,221.5 486.1,221.4 486.2,221.4 486.4,221.3 486.5,221.2 486.7,221.1 486.9,221.1 487.0,221.0 487.2,220.9 487.4,220.8 487.5,220.8 487.7,220.7 487.8,220.6 488.0,220.5 488.2,220.5 488.3,220.4 488.5,220.3 488.7,220.2 488.8,220.1 489.0,220.0 489.1,220.0 489.3,219.9 489.5,219.8 489.6,219.7 489.8,219.6 489.9,219.5 490.1,219.4 490.3,219.3 490.4,219.2 490.6,219.2 490.8,219.1 490.9,219.0 491.1,218.9 491.2,218.8 491.4,218.7 491.6,218.6 491.7,218.5 491.9,218.4 492.1,218.2 492.2,218.1 492.4,218.0 492.5,217.9 492.7,217.8 492.9,217.7 493.0,217.6 493.2,217.4 493.3,217.3 493.5,217.2 493.7,217.1 493.8,216.9 494.0,216.8 494.2,216.7 494.3,216.5 494.5,216.4 494.6,216.2 494.8,216.1 495.0,215.9 495.1,215.8 495.3,215.6 495.5,215.4 495.6,215.2 495.8,215.1 495.9,214.9 496.1,214.7 496.3,214.5 496.4,214.3 496.6,214.1 496.8,213.9 496.9,213.6 497.1,213.4 497.2,213.2 497.4,212.9 497.6,212.7 497.7,212.4 497.9,212.1 498.0,211.8 498.2,211.5 498.4,211.2 498.5,210.9 498.7,210.5 498.9,210.2 499.0,209.8 499.2,209.4 499.3,209.0 499.5,208.5 499.7,208.0 499.8,207.6 500.0,207.0 500.2,206.5 500.3,205.9 500.5,205.3 500.6,204.7 500.8,204.0 501.0,203.2 501.1,202.5 501.3,201.6 501.4,200.7 501.6,199.8 501.8,198.7 501.9,197.6 502.1,196.4 502.3,195.1 502.4,193.7 502.6,192.1 502.7,190.5 502.9,188.6 503.1,186.6 503.2,184.3 503.4,181.8 503.6,179.0 503.7,175.8 503.9,172.2 504.0,168.2 504.2,163.5 504.4,158.1 504.5,151.8 504.7,144.4 504.8,135.5 505.0,124.6 505.2,111.3 505.3,98.3 505.3,102.0 505.5,116.9 505.7,128.8 505.8,138.7 506.0,146.8 506.1,153.7 506.3,159.6 506.5,164.7 506.6,169.1 506.8,173.0 507.0,176.4 507.1,179.5 507.3,182.2 507.4,184.6 507.6,186.8 507.8,188.8 507.9,190.7 508.1,192.3 508.2,193.9 508.4,195.3 508.6,196.6 508.7,197.8 508.9,198.9 509.1,199.9 509.2,200.9 509.4,201.8 509.5,202.6 509.7,203.4 509.9,204.1 510.0,204.8 510.2,205.5 510.4,206.1 510.5,206.7 510.7,207.3 510.8,207.8 511.0,208.3 511.2,208.8 511.3,209.2 511.5,209.6 511.7,210.0 511.8,210.4 512.0,210.8 512.1,211.2 512.3,211.5 512.5,211.8 512.6,212.1 512.8,212.4 512.9,212.7 513.1,213.0 513.3,213.3 513.4,213.5 513.6,213.7 513.8,214.0 513.9,214.2 514.1,214.4 514.2,214.6 514.4,214.8 514.6,215.0 514.7,215.2 514.9,215.4 515.1,215.6 515.2,215.7 515.4,215.9 515.5,216.0 515.7,216.2 515.9,216.3 516.0,216.5 516.2,216.6 516.3,216.7 516.5,216.9 516.7,217.0 516.8,217.1 517.0,217.2 517.2,217.3 517.3,217.4 517.5,217.5 517.6,217.6 517.8,217.7 518.0,217.8 518.1,217.9 518.3,218.0 518.5,218.1 518.6,218.2 518.8,218.2 518.9,218.3 519.1,218.4 519.3,218.5 519.4,218.5 519.6,218.6 519.7,218.7 519.9,218.7 520.1,218.8 520.2,218.8 520.4,218.9 520.6,218.9 520.7,219.0 520.9,219.0 521.0,219.1 521.2,219.1 521.4,219.2 521.5,219.2 521.7,219.3 521.9,219.3 522.0,219.3 522.2,219.4 522.3,219.4 522.5,219.4 522.7,219.5 522.8,219.5 523.0,219.5 523.2,219.6 523.3,219.6 523.5,219.6 523.6,219.6 523.8,219.7 524.0,219.7 524.1,219.7 524.3,219.7 524.4,219.7 524.6,219.7 524.8,219.8 524.9,219.8 525.1,219.8 525.3,219.8 525.4,219.8 525.6,219.8 525.7,219.8 525.9,219.8 526.1,219.8 526.2,219.8 526.4,219.9 526.6,219.9 526.7,219.9 526.9,219.9 527.0,219.9 527.2,219.9 527.4,219.9 527.5,219.9 527.7,219.8 527.8,219.8 528.0,219.8 528.2,219.8 528.3,219.8 528.5,219.8 528.7,219.8 528.8,219.8 529.0,219.8 529.1,219.8 529.3,219.8 529.5,219.8 529.6,219.7 529.8,219.7 530.0,219.7 530.1,219.7 530.3,219.7 530.4,219.7 530.6,219.6 530.8,219.6 530.9,219.6 531.1,219.6 531.2,219.6 531.4,219.5 531.6,219.5 531.7,219.5 531.9,219.5 532.1,219.4 532.2,219.4 532.4,219.4 532.5,219.4 532.7,219.3 532.9,219.3 533.0,219.3 533.2,219.2 533.4,219.2 533.5,219.2 533.7,219.1 533.8,219.1 534.0,219.1 534.2,219.0 534.3,219.0 534.5,219.0 534.7,218.9 534.8,218.9 535.0,218.9 535.1,218.8 535.3,218.8 535.5,218.7 535.6,218.7 535.8,218.7 535.9,218.6 536.1,218.6 536.3,218.5 536.4,218.5 536.6,218.4 536.8,218.4 536.9,218.3 537.1,218.3 537.2,218.2 537.4,218.2 537.6,218.1 537.7,218.1 537.9,218.0 538.1,218.0 538.2,217.9 538.4,217.9 538.5,217.8 538.7,217.8 538.9,217.7 539.0,217.7 539.2,217.6 539.3,217.5 539.5,217.5 539.7,217.4 539.8,217.4 540.0,217.3 540.2,217.2 540.3,217.2 540.5,217.1 540.6,217.0 540.8,217.0 541.0,216.9 541.1,216.8 541.3,216.8 541.5,216.7 541.6,216.6 541.8,216.6 541.9,216.5 542.1,216.4 542.3,216.3 542.4,216.3 542.6,216.2 542.7,216.1 542.9,216.0 543.1,215.9 543.2,215.9 543.4,215.8 543.6,215.7 543.7,215.6 543.9,215.5 544.0,215.4 544.2,215.4 544.4,215.3 544.5,215.2 544.7,215.1 544.9,215.0 545.0,214.9 545.2,214.8 545.3,214.7 545.5,214.6 545.7,214.5 545.8,214.4 546.0,214.3 546.2,214.2 546.3,214.1 546.5,214.0 546.6,213.9 546.8,213.8 547.0,213.7 547.1,213.6 547.3,213.5 547.4,213.4 547.6,213.2 547.8,213.1 547.9,213.0 548.1,212.9 548.3,212.8 548.4,212.6 548.6,212.5 548.7,212.4 548.9,212.3 549.1,212.1 549.2,212.0 549.4,211.9 549.6,211.7 549.7,211.6 549.9,211.4 550.0,211.3 550.2,211.2 550.4,211.0 550.5,210.9 550.7,210.7 550.8,210.6 551.0,210.4 551.2,210.2 551.3,210.1 551.5,209.9 551.7,209.7 551.8,209.6 552.0,209.4 552.1,209.2 552.3,209.1 552.5,208.9 552.6,208.7 552.8,208.5 553.0,208.3 553.1,208.1 553.3,207.9 553.4,207.7 553.6,207.5 553.8,207.3 553.9,207.1 554.1,206.9 554.2,206.7 554.4,206.4 554.6,206.2 554.7,206.0 554.9,205.7 555.1,205.5 555.2,205.3 555.4,205.0 555.5,204.8 555.7,204.5 555.9,204.2 556.0,204.0 556.2,203.7 556.4,203.4 556.5,203.1 556.7,202.8 556.8,202.5 557.0,202.2 557.2,201.9 557.3,201.6 557.5,201.3 557.7,200.9 557.8,200.6 558.0,200.2 558.1,199.9 558.3,199.5 558.5,199.1 558.6,198.8 558.8,198.4 558.9,198.0 559.1,197.6 559.3,197.1 559.4,196.7 559.6,196.3 559.8,195.8 559.9,195.3 560.1,194.9 560.2,194.4 560.4,193.9 560.6,193.3 560.7,192.8 560.9,192.3 561.1,191.7 561.2,191.1 561.4,190.5 561.5,189.9 561.7,189.3 561.9,188.6 562.0,187.9 562.2,187.2 562.3,186.5 562.5,185.8 562.7,185.0 562.8,184.2 563.0,183.4 563.2,182.5 563.3,181.7 563.5,180.8 563.6,179.8 563.8,178.8 564.0,177.8 564.1,176.8 564.3,175.7 564.5,174.5 564.6,173.3 564.8,172.1 564.9,170.8 565.1,169.5 565.3,168.1 565.4,166.6 565.6,165.1 565.7,163.5 565.9,161.9 566.1,160.1 566.2,158.3 566.4,156.4 566.6,154.3 566.7,152.2 566.9,150.0 567.0,147.6 567.2,145.2 567.4,142.6 567.5,139.8 567.7,136.9 567.9,133.8 568.0,130.5 568.2,127.0 568.3,123.3 568.5,119.3 568.7,115.1 568.8,110.6 569.0,105.8 569.1,100.6 569.3,95.0 569.5,89.0 569.6,82.5 569.8,75.5 570.0,67.9 570.1,59.7 570.2,55.4 570.3,59.2 570.4,66.1 570.6,72.6 570.8,78.6 570.9,84.3 571.1,89.6 571.3,94.6 571.4,99.3 571.6,103.7 571.7,107.8 571.9,111.8 572.1,115.5 572.2,119.0 572.4,122.3 572.6,125.5 572.7,128.5 572.9,131.4 573.0,134.1 573.2,136.7 573.4,139.1 573.5,141.5 573.7,143.7 573.8,145.9 574.0,147.9 574.2,149.9 574.3,151.8 574.5,153.6 574.7,155.3 574.8,157.0 575.0,158.6 575.1,160.1 575.3,161.6 575.5,163.0 575.6,164.4 575.8,165.7 576.0,167.0 576.1,168.2 576.3,169.4 576.4,170.5 576.6,171.6 576.8,172.7 576.9,173.7 577.1,174.7 577.2,175.7 577.4,176.6 577.6,177.5 577.7,178.3 577.9,179.2 578.1,180.0 578.2,180.8 578.4,181.5 578.5,182.3 578.7,183.0 578.9,183.7 579.0,184.4 579.2,185.0 579.4,185.7 579.5,186.3 579.7,186.9 579.8,187.5 580.0,188.0 580.2,188.6 580.3,189.1 580.5,189.6 580.6,190.1 580.8,190.6 581.0,191.1 581.1,191.6 581.3,192.0 581.5,192.5 581.6,192.9 581.8,193.3 581.9,193.7 582.1,194.1 582.3,194.5 582.4,194.9 582.6,195.2 582.8,195.6 582.9,195.9 583.1,196.3 583.2,196.6 583.4,196.9 583.6,197.3 583.7,197.6 583.9,197.9 584.1,198.2 584.2,198.4 584.4,198.7 584.5,199.0 584.7,199.3 584.9,199.5 585.0,199.8 585.2,200.0 585.3,200.3 585.5,200.5 585.7,200.7 585.8,201.0 586.0,201.2 586.2,201.4 586.3,201.6 586.5,201.8 586.6,202.0 586.8,202.2 587.0,202.4 587.1,202.6 587.3,202.8 587.5,203.0 587.6,203.1 587.8,203.3 587.9,203.5 588.1,203.6 588.3,203.8 588.4,204.0 588.6,204.1 588.7,204.3 588.9,204.4 589.1,204.6 589.2,204.7 589.4,204.8 589.6,205.0 589.7,205.1 589.9,205.2 590.0,205.4 590.2,205.5 590.4,205.6 590.5,205.7 590.7,205.9 590.9,206.0 591.0,206.1 591.2,206.2 591.3,206.3 591.5,206.4 591.7,206.5 591.8,206.6 592.0,206.7 592.1,206.8 592.3,206.9 592.5,207.0 592.6,207.1 592.8,207.2 593.0,207.3 593.1,207.4 593.3,207.5 593.4,207.6 593.6,207.7 593.8,207.8 593.9,207.8 594.1,207.9 594.3,208.0 594.4,208.1 594.6,208.2 594.7,208.2 594.9,208.3 595.1,208.4 595.2,208.5 595.4,208.5 595.6,208.6 595.7,208.7 595.9,208.8 596.0,208.8 596.2,208.9 596.4,209.0 596.5,209.0 596.7,209.1 596.8,209.2 597.0,209.2 597.2,209.3 597.3,209.4 597.5,209.4 597.7,209.5 597.8,209.5 598.0,209.6 598.1,209.7 598.3,209.7 598.5,209.8 598.6,209.9 598.8,209.9 599.0,210.0 599.1,210.1 599.3,210.1 599.4,210.2 599.6,210.3" fill="none" stroke="#0a8cff" stroke-width="2.6" stroke-dasharray="9.5 4"/>
<polyline points="405.4,238.8 405.7,238.9 406.0,239.0 406.4,239.1 406.7,239.2 407.0,239.3 407.3,239.4 407.7,239.5 408.0,239.6 408.3,239.8 408.6,239.9 409.0,240.0 409.3,240.1 409.6,240.2 409.9,240.3 410.3,240.4 410.6,240.5 410.9,240.6 411.2,240.7 411.6,240.8 411.9,241.0 412.0,241.0 412.2,241.1 412.5,241.2 412.9,241.3 413.2,241.5 413.5,241.6 413.8,241.8 414.2,241.9 414.5,242.1 414.8,242.2 415.1,242.4 415.5,242.5 415.8,242.7 416.1,242.8 416.4,243.0 416.7,243.1 417.1,243.3 417.4,243.4 417.7,243.5 418.0,243.6 418.4,243.7 418.7,243.8 419.0,243.8 419.3,243.9 419.7,243.9 420.0,243.9 420.0,243.9 420.3,243.9 420.6,243.8 421.0,243.7 421.3,243.5 421.6,243.3 421.9,243.1 422.3,242.8 422.6,242.5 422.9,242.2 423.2,241.9 423.6,241.5 423.9,241.1 424.2,240.7 424.5,240.3 424.9,239.9 425.2,239.5 425.5,239.0 425.8,238.6 426.1,238.2 426.5,237.8 426.8,237.4 427.1,237.0 427.4,236.6 427.8,236.2 428.0,236.0 428.1,235.9 428.4,235.6 428.7,235.3 429.1,235.0 429.4,234.7 429.7,234.4 430.0,234.1 430.4,233.8 430.7,233.5 431.0,233.2 431.3,232.9 431.7,232.5 432.0,232.2 432.3,231.8 432.6,231.5 433.0,231.0 433.3,230.6 433.5,230.3 433.6,230.1 433.9,229.7 434.3,229.1 434.6,228.6 434.9,228.0 435.2,227.4 435.6,226.7 435.9,226.0 436.2,225.2 436.5,224.4 436.8,223.6 437.2,222.6 437.5,221.6 437.8,220.6 437.9,220.3 438.1,219.2 438.5,217.0 438.8,214.6 439.1,212.2 439.4,210.4 439.8,209.6 439.8,209.6 440.1,209.9 440.4,211.0 440.7,212.5 441.1,214.4 441.4,216.3 441.7,218.2 442.0,219.7 442.2,220.3 442.4,220.8 442.7,221.8 443.0,222.8 443.3,223.7 443.7,224.7 444.0,225.6 444.3,226.4 444.6,227.2 445.0,227.9 445.3,228.6 445.6,229.1 445.9,229.6 446.3,230.0 446.6,230.3 446.6,230.3 446.9,230.5 447.2,230.7 447.5,230.8 447.9,231.0 448.2,231.2 448.5,231.3 448.8,231.4 449.2,231.5 449.5,231.6 449.8,231.7 450.1,231.8 450.5,231.9 450.8,232.0 451.1,232.1 451.4,232.2 451.8,232.3 452.1,232.3 452.4,232.4 452.6,232.5 452.7,232.5 453.1,232.6 453.4,232.7 453.7,232.9 454.0,233.0 454.4,233.1 454.7,233.2 455.0,233.3 455.3,233.4 455.7,233.5 456.0,233.6 456.3,233.7 456.6,233.8 456.9,233.9 457.3,234.0 457.6,234.0 457.9,234.1 458.2,234.2 458.6,234.3 458.9,234.3 459.2,234.4 459.5,234.4 459.9,234.5 460.0,234.5 460.2,234.5 460.5,234.6 460.8,234.6 461.2,234.6 461.5,234.7 461.8,234.7 462.1,234.8 462.5,234.8 462.8,234.8 463.1,234.9 463.4,234.9 463.8,234.9 464.1,235.0 464.4,235.0 464.7,235.0 465.1,235.0 465.4,235.1 465.7,235.1 466.0,235.1 466.4,235.1 466.7,235.1 467.0,235.2 467.3,235.2 467.6,235.2 468.0,235.2 468.3,235.2 468.6,235.2 468.9,235.2 469.0,235.2 469.3,235.2 469.6,235.2 469.9,235.2 470.2,235.2 470.6,235.2 470.9,235.2 471.2,235.2 471.5,235.2 471.9,235.2 472.2,235.2 472.5,235.2 472.8,235.2 473.2,235.2 473.5,235.2 473.8,235.2 474.1,235.2 474.5,235.2 474.8,235.2 475.1,235.2 475.4,235.2 475.8,235.2 476.1,235.2 476.4,235.2 476.7,235.2 477.0,235.2 477.4,235.2 477.7,235.2 478.0,235.2 478.3,235.2 478.7,235.2 479.0,235.2 479.3,235.2 479.6,235.2 480.0,235.2 480.0,235.2 480.3,235.2 480.6,235.2 480.9,235.2 481.3,235.2 481.6,235.2 481.9,235.2 482.2,235.2 482.6,235.2 482.9,235.2 483.2,235.2 483.5,235.2 483.9,235.2 484.2,235.3 484.5,235.3 484.8,235.3 485.2,235.3 485.5,235.3 485.8,235.3 486.1,235.3 486.5,235.3 486.8,235.3 487.1,235.3 487.4,235.3 487.7,235.3 488.1,235.3 488.4,235.4 488.7,235.4 489.0,235.4 489.4,235.4 489.7,235.4 490.0,235.4 490.3,235.4 490.7,235.4 491.0,235.4 491.3,235.4 491.6,235.4 492.0,235.4 492.3,235.4 492.4,235.4 492.6,235.4 492.9,235.4 493.3,235.4 493.6,235.3 493.9,235.3 494.2,235.2 494.6,235.2 494.9,235.1 495.2,235.0 495.5,234.9 495.9,234.8 496.2,234.7 496.5,234.6 496.8,234.4 497.2,234.3 497.5,234.1 497.8,233.9 498.1,233.7 498.4,233.5 498.8,233.3 499.1,233.0 499.4,232.8 499.7,232.5 500.1,232.2 500.4,231.9 500.7,231.6 501.0,231.3 501.3,231.0 501.4,230.9 501.7,230.1 502.0,228.8 502.3,227.1 502.7,225.2 503.0,223.1 503.3,221.1 503.5,220.0 503.6,219.3 504.0,217.9 504.3,216.2 504.6,213.6 504.7,212.6 504.9,202.5 505.3,185.6 505.3,185.2 505.6,189.6 505.9,200.9 506.2,211.3 506.3,212.6 506.6,216.0 506.9,219.5 507.2,222.4 507.5,225.0 507.5,225.2 507.8,228.4 508.2,231.7 508.5,234.5 508.8,236.2 509.0,236.5 509.1,236.5 509.5,236.5 509.8,236.4 510.1,236.4 510.4,236.3 510.8,236.2 511.1,236.1 511.4,235.9 511.7,235.8 512.1,235.7 512.4,235.5 512.7,235.4 513.0,235.2 513.4,235.1 513.7,235.0 514.0,234.8 514.3,234.7 514.7,234.6 515.0,234.5 515.0,234.5 515.3,234.4 515.6,234.3 516.0,234.3 516.3,234.2 516.6,234.1 516.9,234.1 517.3,234.0 517.6,233.9 517.9,233.9 518.2,233.8 518.5,233.7 518.9,233.7 519.2,233.6 519.5,233.5 519.8,233.5 520.2,233.4 520.5,233.3 520.8,233.2 521.1,233.2 521.4,233.1 521.5,233.1 521.8,233.0 522.1,232.9 522.4,232.8 522.8,232.7 523.1,232.6 523.4,232.5 523.7,232.4 524.1,232.3 524.4,232.1 524.7,232.0 525.0,231.9 525.4,231.8 525.7,231.7 526.0,231.5 526.3,231.4 526.7,231.3 527.0,231.2 527.3,231.0 527.6,230.9 528.0,230.8 528.3,230.6 528.6,230.5 528.9,230.4 529.2,230.3 529.6,230.2 529.9,230.0 530.0,230.0 530.2,229.9 530.5,229.8 530.9,229.7 531.2,229.6 531.5,229.5 531.8,229.4 532.2,229.3 532.5,229.2 532.8,229.1 533.1,229.0 533.5,228.9 533.8,228.8 534.1,228.7 534.4,228.6 534.8,228.5 535.1,228.4 535.4,228.2 535.7,228.1 536.1,228.0 536.4,227.9 536.7,227.8 537.0,227.7 537.4,227.6 537.7,227.4 538.0,227.3 538.3,227.2 538.6,227.0 539.0,226.9 539.3,226.7 539.6,226.6 539.9,226.4 540.0,226.4 540.3,226.3 540.6,226.1 540.9,225.9 541.2,225.7 541.6,225.5 541.9,225.2 542.2,225.0 542.5,224.7 542.9,224.5 543.2,224.2 543.5,224.0 543.8,223.7 544.2,223.4 544.5,223.1 544.8,222.8 545.1,222.5 545.5,222.2 545.8,222.0 546.1,221.7 546.4,221.4 546.8,221.1 547.1,220.8 547.4,220.5 547.7,220.2 548.0,220.0 548.1,220.0 548.4,219.7 548.7,219.4 549.0,219.2 549.3,218.9 549.7,218.7 550.0,218.4 550.3,218.2 550.6,217.9 551.0,217.7 551.3,217.4 551.6,217.2 551.9,216.9 552.3,216.7 552.6,216.4 552.9,216.1 553.2,215.9 553.6,215.6 553.9,215.3 554.2,214.9 554.5,214.6 554.9,214.3 555.2,213.9 555.5,213.6 555.8,213.2 556.2,212.8 556.2,212.7 556.5,212.3 556.8,211.9 557.1,211.4 557.5,210.9 557.8,210.4 558.1,209.9 558.4,209.3 558.7,208.7 559.1,208.1 559.4,207.4 559.7,206.7 560.0,206.0 560.4,205.3 560.7,204.5 561.0,203.6 561.3,202.8 561.7,201.9 562.0,200.9 562.3,199.9 562.6,198.9 563.0,197.8 563.3,196.7 563.5,195.9 563.6,195.5 563.9,194.2 564.3,192.8 564.6,191.3 564.9,189.5 565.2,187.5 565.6,185.3 565.9,182.7 566.2,179.8 566.5,176.6 566.8,173.6 566.9,172.9 567.2,166.3 567.5,157.6 567.8,150.0 567.8,149.4 568.2,142.3 568.5,135.4 568.8,128.4 569.1,120.9 569.2,119.1 569.4,111.3 569.8,99.5 570.1,91.8 570.2,91.2 570.4,92.5 570.7,98.0 571.1,106.0 571.4,114.4 571.6,119.1 571.7,121.5 572.0,128.4 572.4,135.4 572.7,142.1 573.0,148.5 573.1,150.0 573.3,154.3 573.7,160.1 574.0,165.6 574.3,170.3 574.6,173.6 574.6,174.0 575.0,177.0 575.3,179.9 575.6,182.6 575.9,185.2 576.3,187.5 576.6,189.6 576.9,191.5 577.2,193.1 577.6,194.5 577.9,195.6 578.0,195.9 578.2,196.4 578.5,197.2 578.9,197.9 579.2,198.5 579.5,199.1 579.8,199.7 580.1,200.2 580.5,200.6 580.8,201.0 581.1,201.5 581.4,201.9 581.8,202.2 582.1,202.6 582.4,203.0 582.7,203.4 583.1,203.8 583.2,204.0 583.4,204.3 583.7,204.7 584.0,205.1 584.4,205.6 584.7,206.0 585.0,206.5 585.3,206.9 585.7,207.3 586.0,207.7 586.3,208.2 586.6,208.5 587.0,208.9 587.3,209.3 587.6,209.6 587.9,210.0 588.3,210.3 588.6,210.5 588.9,210.8 589.2,211.0 589.2,211.0 589.5,211.2 589.9,211.4 590.2,211.6 590.5,211.8 590.8,212.1 591.2,212.3 591.5,212.5 591.8,212.6 592.1,212.8 592.5,213.0 592.8,213.2 593.1,213.4 593.4,213.6 593.8,213.7 594.1,213.9 594.4,214.0 594.7,214.2 595.1,214.3 595.4,214.5 595.7,214.6 596.0,214.7 596.4,214.8 596.7,214.9 597.0,215.0 597.3,215.1 597.7,215.2 598.0,215.3 598.3,215.3 598.6,215.3 599.0,215.4 599.3,215.4 599.6,215.4" fill="none" stroke="#ff0000" stroke-width="2.1" stroke-linejoin="round"/>
<rect x="61" y="289" width="26" height="22" fill="#404040" shape-rendering="crispEdges"/>
<rect x="87" y="289" width="26" height="22" fill="#525252" shape-rendering="crispEdges"/>
<rect x="113" y="289" width="26" height="22" fill="#606060" shape-rendering="crispEdges"/>
<rect x="139" y="289" width="25" height="22" fill="#7a7a7a" shape-rendering="crispEdges"/>
<rect x="164" y="289" width="26" height="22" fill="#a6a6a6" shape-rendering="crispEdges"/>
<rect x="190" y="289" width="26" height="22" fill="#d4d4d4" shape-rendering="crispEdges"/>
<rect x="216" y="289" width="26" height="22" fill="#dcdcdc" shape-rendering="crispEdges"/>
<rect x="242" y="289" width="25" height="22" fill="#e2e2e2" shape-rendering="crispEdges"/>
<rect x="61" y="311" width="26" height="21" fill="#3f3f3f" shape-rendering="crispEdges"/>
<rect x="87" y="311" width="26" height="21" fill="#3f3f3f" shape-rendering="crispEdges"/>
<rect x="113" y="311" width="26" height="21" fill="#3f3f3f" shape-rendering="crispEdges"/>
<rect x="139" y="311" width="25" height="21" fill="#414141" shape-rendering="crispEdges"/>
<rect x="164" y="311" width="26" height="21" fill="#7a7a7a" shape-rendering="crispEdges"/>
<rect x="190" y="311" width="26" height="21" fill="#999999" shape-rendering="crispEdges"/>
<rect x="216" y="311" width="26" height="21" fill="#a2a2a2" shape-rendering="crispEdges"/>
<rect x="242" y="311" width="25" height="21" fill="#a6a6a6" shape-rendering="crispEdges"/>
<rect x="61" y="332" width="26" height="21" fill="#404040" shape-rendering="crispEdges"/>
<rect x="87" y="332" width="26" height="21" fill="#4c4c4c" shape-rendering="crispEdges"/>
<rect x="113" y="332" width="26" height="21" fill="#4e4e4e" shape-rendering="crispEdges"/>
<rect x="139" y="332" width="25" height="21" fill="#474747" shape-rendering="crispEdges"/>
<rect x="164" y="332" width="26" height="21" fill="#575757" shape-rendering="crispEdges"/>
<rect x="190" y="332" width="26" height="21" fill="#4c4c4c" shape-rendering="crispEdges"/>
<rect x="216" y="332" width="26" height="21" fill="#4c4c4c" shape-rendering="crispEdges"/>
<rect x="242" y="332" width="25" height="21" fill="#4c4c4c" shape-rendering="crispEdges"/>
<rect x="404" y="289" width="26" height="22" fill="#404040" shape-rendering="crispEdges"/>
<rect x="430" y="289" width="26" height="22" fill="#545454" shape-rendering="crispEdges"/>
<rect x="456" y="289" width="26" height="22" fill="#5e5e5e" shape-rendering="crispEdges"/>
<rect x="482" y="289" width="26" height="22" fill="#5a5a5a" shape-rendering="crispEdges"/>
<rect x="508" y="289" width="25" height="22" fill="#626262" shape-rendering="crispEdges"/>
<rect x="533" y="289" width="26" height="22" fill="#636363" shape-rendering="crispEdges"/>
<rect x="559" y="289" width="26" height="22" fill="#636363" shape-rendering="crispEdges"/>
<rect x="585" y="289" width="26" height="22" fill="#646464" shape-rendering="crispEdges"/>
<rect x="404" y="311" width="26" height="21" fill="#3f3f3f" shape-rendering="crispEdges"/>
<rect x="430" y="311" width="26" height="21" fill="#444444" shape-rendering="crispEdges"/>
<rect x="456" y="311" width="26" height="21" fill="#474747" shape-rendering="crispEdges"/>
<rect x="482" y="311" width="26" height="21" fill="#545454" shape-rendering="crispEdges"/>
<rect x="508" y="311" width="25" height="21" fill="#5a5a5a" shape-rendering="crispEdges"/>
<rect x="533" y="311" width="26" height="21" fill="#666666" shape-rendering="crispEdges"/>
<rect x="559" y="311" width="26" height="21" fill="#676767" shape-rendering="crispEdges"/>
<rect x="585" y="311" width="26" height="21" fill="#686868" shape-rendering="crispEdges"/>
<rect x="404" y="332" width="26" height="21" fill="#404040" shape-rendering="crispEdges"/>
<rect x="430" y="332" width="26" height="21" fill="#4e4e4e" shape-rendering="crispEdges"/>
<rect x="456" y="332" width="26" height="21" fill="#696969" shape-rendering="crispEdges"/>
<rect x="482" y="332" width="26" height="21" fill="#8e8e8e" shape-rendering="crispEdges"/>
<rect x="508" y="332" width="25" height="21" fill="#c8c8c8" shape-rendering="crispEdges"/>
<rect x="533" y="332" width="26" height="21" fill="#dfdfdf" shape-rendering="crispEdges"/>
<rect x="559" y="332" width="26" height="21" fill="#e2e2e2" shape-rendering="crispEdges"/>
<rect x="585" y="332" width="26" height="21" fill="#e2e2e2" shape-rendering="crispEdges"/>
<line x1="41.4" y1="592.4" x2="211" y2="592.4" stroke="#000" stroke-width="1.15"/>
<line x1="242" y1="592.4" x2="411.2" y2="592.4" stroke="#000" stroke-width="1.15"/>
<line x1="457" y1="592.4" x2="625.5" y2="592.4" stroke="#000" stroke-width="1.15"/>
<polyline points="49.5,589.6 51.5,590.2 57.6,590.2 60.1,586.6 63.1,585.6 65.5,441.3 67.8,520.0 69.5,553.4 71.4,553.8 72.9,576.8 75.6,583.0 78.3,576.8 80.6,583.0 83.3,588.0 86.3,571.5 89.0,578.4 91.3,589.1 94.0,574.5 96.7,554.2 98.2,558.4 101.8,472.0 103.8,540.0 104.1,564.6 105.3,566.1 106.8,560.3 109.5,581.4 112.2,586.0 114.5,583.0 117.6,581.8 120.3,587.2 123.3,582.6 126.0,583.0 129.5,583.7 132.2,576.1 133.3,566.5 135.6,578.4 137.1,560.0 138.3,524.1 139.4,563.0 140.9,578.4 143.6,568.4 146.3,583.0 148.6,586.8 151.7,589.1 154.0,586.0 159.3,589.5 162.4,585.3 166.2,583.0 169.7,578.4 171.6,584.5 173.5,568.0 175.0,552.5 176.5,575.0 177.7,589.1 180.4,578.4 182.7,587.6 188.0,588.7 190.7,585.3 193.8,588.0 200.7,585.3 203.8,588.4" fill="none" stroke="#008000" stroke-width="1.7" stroke-linejoin="round" clip-path="url(#cb1)"/>
<polyline points="50.3,587.4 52.3,589.9 58.6,590.2 63.1,588.6 63.8,589.6 65.3,446.0 69.6,560.0 70.6,583.0 72.1,581.4 75.6,568.4 77.5,576.1 81.0,583.0 84.4,577.6 88.3,579.9 91.7,577.6 94.4,576.1 97.5,569.2 99.4,540.0 101.8,463.3 103.9,540.0 104.5,572.2 106.1,575.3 111.0,584.5 114.5,589.1 117.6,582.2 122.6,581.4 125.6,586.8 131.0,581.8 134.8,578.4 136.4,563.0 138.3,524.1 140.9,579.1 145.5,586.0 150.5,588.4 154.0,584.5 158.6,585.3 160.9,588.4 165.5,585.3 170.8,586.8 173.1,563.0 175.0,550.0 177.3,584.5 183.0,585.3 186.5,588.0 193.0,587.6 199.2,588.4 203.8,588.0" fill="none" stroke="#0a8cff" stroke-width="1.8" stroke-dasharray="4 2.5" clip-path="url(#cb1)"/>
<polyline points="49.0,591.7 52.5,591.4 54.8,588.6 57.6,589.1 60.6,587.9 62.8,586.1 63.3,560.0 64.5,428.0 65.2,360.0 66.5,428.0 67.6,560.0 67.9,583.0 70.6,587.6 74.4,590.3 79.8,589.1 82.9,590.3 88.3,587.6 91.3,590.3 98.2,589.9 101.7,575.3 104.4,587.5 106.4,589.9 114.5,589.9 118.7,587.2 124.9,590.6 127.9,588.4 131.0,590.6 134.0,589.9 138.2,587.2 140.9,591.0 145.5,588.0 151.3,591.0 156.3,588.4 160.1,590.3 164.7,589.9 169.3,588.4 173.8,590.3 180.7,590.3 183.0,589.1 189.2,589.9 195.3,588.4 199.2,590.7 203.8,591.0" fill="none" stroke="#ff0000" stroke-width="1.6" stroke-linejoin="round" clip-path="url(#cb1)"/>
<polyline points="249.1,589.6 251.1,590.2 257.2,590.2 259.7,586.6 262.7,585.6 265.1,441.3 267.4,520.0 269.1,553.4 271.0,553.8 272.5,576.8 275.2,583.0 277.9,576.8 280.2,583.0 282.9,588.0 285.9,571.5 288.6,578.4 290.9,589.1 293.6,574.5 296.3,554.2 297.8,558.4 301.4,472.0 303.4,540.0 303.7,564.6 304.9,566.1 306.4,560.3 309.1,581.4 311.8,586.0 314.1,583.0 317.2,581.8 319.9,587.2 322.9,582.6 325.6,583.0 329.1,583.7 331.8,576.1 332.9,566.5 335.2,578.4 336.7,560.0 337.9,524.1 339.0,563.0 340.5,578.4 343.2,568.4 345.9,583.0 348.2,586.8 351.3,589.1 353.6,586.0 358.9,589.5 362.0,585.3 365.8,583.0 369.3,578.4 371.2,584.5 373.1,568.0 374.6,552.5 376.1,575.0 377.3,589.1 380.0,578.4 382.3,587.6 387.6,588.7 390.3,585.3 393.4,588.0 400.3,585.3 403.4,588.4" fill="none" stroke="#008000" stroke-width="1.7" stroke-linejoin="round" clip-path="url(#cb2)"/>
<polyline points="249.9,587.4 251.9,589.9 258.2,590.2 262.7,588.6 263.4,589.6 264.7,436.3 268.3,553.8 269.8,581.4 272.1,582.2 275.2,566.5 277.5,579.1 281.7,582.2 284.4,575.3 288.2,579.9 291.3,576.8 294.4,573.8 297.4,564.6 298.6,540.0 301.6,436.3 304.3,559.2 305.4,573.0 307.3,579.9 313.5,586.8 314.6,590.3 317.3,580.3 321.5,579.9 325.0,586.8 328.4,579.9 331.1,574.5 334.2,555.3 335.4,540.0 338.3,436.3 340.3,540.0 341.0,563.0 343.0,579.9 346.0,572.2 349.5,583.4 351.4,580.7 353.7,574.5 359.1,577.6 361.0,583.0 364.1,576.8 366.7,586.4 369.4,579.1 371.4,576.8 372.5,540.0 374.6,436.3 376.6,540.0 376.6,563.0 377.3,564.6 380.4,563.0 382.7,566.9 385.4,575.3 387.7,578.4 391.2,576.8 395.0,571.5 397.3,579.1 398.8,580.7 402.7,578.4" fill="none" stroke="#0a8cff" stroke-width="1.8" stroke-dasharray="4 2.5" clip-path="url(#cb2)"/>
<polyline points="249.2,591.0 261.9,591.0 264.8,440.4 267.5,590.3 290.0,591.0 299.5,591.0 301.4,564.9 303.5,591.0 336.0,591.0 338.1,579.7 340.5,591.0 372.0,591.0 374.5,583.0 377.0,591.0 403.3,591.2" fill="none" stroke="#ff0000" stroke-width="1.9" stroke-linejoin="round" clip-path="url(#cb2)"/>
<polyline points="463.9,589.6 465.9,590.2 472.0,590.2 474.5,586.6 477.5,585.6 479.8,441.3 482.2,520.0 483.9,553.4 485.8,553.8 487.3,576.8 490.0,583.0 492.7,576.8 495.0,583.0 497.7,588.0 500.7,571.5 503.4,578.4 505.7,589.1 508.4,574.5 511.1,554.2 512.6,558.4 516.2,472.0 518.2,540.0 518.5,564.6 519.7,566.1 521.2,560.3 523.9,581.4 526.6,586.0 528.9,583.0 532.0,581.8 534.7,587.2 537.7,582.6 540.4,583.0 543.9,583.7 546.6,576.1 547.7,566.5 550.0,578.4 551.5,560.0 552.7,524.1 553.8,563.0 555.3,578.4 558.0,568.4 560.7,583.0 563.0,586.8 566.1,589.1 568.4,586.0 573.7,589.5 576.8,585.3 580.6,583.0 584.1,578.4 586.0,584.5 587.9,568.0 589.4,552.5 590.9,575.0 592.1,589.1 594.8,578.4 597.1,587.6 602.4,588.7 605.1,585.3 608.2,588.0 615.1,585.3 618.2,588.4" fill="none" stroke="#008000" stroke-width="1.7" stroke-linejoin="round" clip-path="url(#cb2)"/>
<polyline points="464.7,587.4 466.7,589.9 473.0,590.2 477.5,588.6 478.2,589.6 479.5,436.3 483.1,553.8 484.6,581.4 486.9,582.2 490.0,566.5 492.3,579.1 496.5,582.2 499.2,575.3 503.0,579.9 506.1,576.8 509.2,573.8 512.2,564.6 513.4,540.0 516.4,436.3 519.1,559.2 520.2,573.0 522.1,579.9 528.3,586.8 529.4,590.3 532.1,580.3 536.3,579.9 539.8,586.8 543.2,579.9 545.9,574.5 549.0,555.3 550.2,540.0 553.1,436.3 555.1,540.0 555.8,563.0 557.8,579.9 560.8,572.2 564.3,583.4 566.2,580.7 568.5,574.5 573.9,577.6 575.8,583.0 578.9,576.8 581.5,586.4 584.2,579.1 586.2,576.8 587.3,540.0 589.4,436.3 591.4,540.0 591.4,563.0 592.1,564.6 595.2,563.0 597.5,566.9 600.2,575.3 602.5,578.4 606.0,576.8 609.8,571.5 612.1,579.1 613.6,580.7 617.5,578.4" fill="none" stroke="#0a8cff" stroke-width="1.8" stroke-dasharray="4 2.5" clip-path="url(#cb2)"/>
<polyline points="463.4,591.0 476.5,591.0 479.6,494.9 482.7,591.0 513.3,591.0 516.4,483.6 519.5,591.0 550.0,591.0 553.1,553.7 556.0,591.0 587.0,591.0 589.5,565.7 592.0,591.0 618.8,591.2" fill="none" stroke="#ff0000" stroke-width="1.9" stroke-linejoin="round" clip-path="url(#cb2)"/>
<rect x="395.7" y="49.6" width="1.2" height="1.2" fill="#555"/>
<rect x="396" y="245.8" width="1.2" height="1.2" fill="#555"/>
<rect x="262.8" y="272" width="1" height="5.5" fill="#aaa"/>
<rect x="99" y="286.5" width="1" height="2.5" fill="#777"/>
<rect x="125" y="286.5" width="1" height="2.5" fill="#777"/>
<rect x="227.5" y="286.5" width="1" height="2.5" fill="#777"/>
<rect x="253.8" y="286.5" width="1" height="2.5" fill="#777"/>
<rect x="58.5" y="320.6" width="2.5" height="1" fill="#555"/>
<rect x="401.3" y="320.6" width="2.5" height="1" fill="#555"/>
<rect x="469" y="286.5" width="1" height="2.5" fill="#777"/>
<rect x="494.3" y="286.5" width="1" height="2.5" fill="#777"/>
<rect x="597" y="286.5" width="1" height="2.5" fill="#777"/>
<rect x="426.1" y="253.5" width="1" height="2" fill="#333"/>
<g style="will-change:transform">
<text transform="translate(53.78,23.47) scale(1.0057,1.0393)" font-size="23" font-style="normal" font-weight="normal" stroke="#fff" stroke-width="0.212" style='font-family:"Liberation Serif",serif;text-rendering:geometricPrecision'>Input</text>
<text transform="translate(150.98,25.02) scale(0.9925,1.0068)" font-size="23" font-style="normal" font-weight="normal" stroke="#fff" stroke-width="0.219" style='font-family:"Liberation Serif",serif;text-rendering:geometricPrecision'>Ground Truth</text>
<text transform="translate(323.88,24.09) scale(0.9896,1.0286)" font-size="23" font-style="normal" font-weight="normal" stroke="#fff" stroke-width="0.214" style='font-family:"Liberation Serif",serif;text-rendering:geometricPrecision'>Forecasting</text>
<text transform="translate(506.21,24.67) scale(0.9873,0.9968)" font-size="23" font-style="normal" font-weight="normal" stroke="#fff" stroke-width="0.221" style='font-family:"Liberation Serif",serif;text-rendering:geometricPrecision'>Relative Error</text>
<text transform="translate(438.31,11.83) scale(1.0231,1.0264)" font-size="15" font-style="normal" font-weight="normal" stroke="#fff" stroke-width="0.214" style='font-family:"Liberation Serif",serif;text-rendering:geometricPrecision'>0.9</text>
<text transform="translate(487.18,11.41) scale(1.0009,1.0439)" font-size="15" font-style="normal" font-weight="normal" stroke="#fff" stroke-width="0.211" style='font-family:"Liberation Serif",serif;text-rendering:geometricPrecision'>0.1</text>
<text transform="translate(19.97,78.68) scale(0.9689,0.9924)" font-size="20" font-style="normal" font-weight="normal" stroke="#000" stroke-width="0.302" style='font-family:"Liberation Serif",serif;text-rendering:geometricPrecision'>200</text>
<text transform="translate(20.89,131.73) scale(0.9376,1.0037)" font-size="20" font-style="normal" font-weight="normal" stroke="#000" stroke-width="0.299" style='font-family:"Liberation Serif",serif;text-rendering:geometricPrecision'>100</text>
<text transform="translate(29.67,168.58) scale(0.9766,0.9847)" font-size="20" font-style="normal" font-weight="normal" stroke="#000" stroke-width="0.305" style='font-family:"Liberation Serif",serif;text-rendering:geometricPrecision'>50</text>
<text transform="translate(39.84,259.34) scale(1.0530,1.0565)" font-size="20" font-style="normal" font-weight="normal" stroke="#000" stroke-width="0.284" style='font-family:"Liberation Serif",serif;text-rendering:geometricPrecision'>0</text>
<text transform="translate(72.98,269.35) scale(1.0008,1.0413)" font-size="20" font-style="normal" font-weight="normal" stroke="#000" stroke-width="0.288" style='font-family:"Liberation Serif",serif;text-rendering:geometricPrecision'>30</text>
<text transform="translate(137.75,269.47) scale(1.0315,1.0313)" font-size="20" font-style="normal" font-weight="normal" stroke="#000" stroke-width="0.291" style='font-family:"Liberation Serif",serif;text-rendering:geometricPrecision'>60</text>
<text transform="translate(202.67,269.77) scale(0.9940,1.0493)" font-size="20" font-style="normal" font-weight="normal" stroke="#000" stroke-width="0.286" style='font-family:"Liberation Serif",serif;text-rendering:geometricPrecision'>90</text>
<text transform="translate(246.83,270.00) scale(1.1967,1.0868)" font-size="22" font-style="italic" font-weight="normal" stroke="#fff" stroke-width="0.184" style='font-family:"Liberation Serif",serif;text-rendering:geometricPrecision'>F</text>
<text transform="translate(97.92,71.87) scale(0.9599,0.9439)" font-size="29" font-style="italic" font-weight="normal" stroke="#fff" stroke-width="0.229" style='font-family:"Liberation Serif",serif;text-rendering:geometricPrecision'>k1</text>
<text transform="translate(167.00,110.00) scale(0.9461,0.9476)" font-size="29" font-style="italic" font-weight="normal" stroke="#fff" stroke-width="0.232" style='font-family:"Liberation Serif",serif;text-rendering:geometricPrecision'>k2</text>
<text transform="translate(223.92,147.95) scale(0.9880,0.9512)" font-size="29" font-style="italic" font-weight="normal" stroke="#fff" stroke-width="0.223" style='font-family:"Liberation Serif",serif;text-rendering:geometricPrecision'>k3</text>
<text transform="translate(365.13,57.76) scale(0.9649,0.9888)" font-size="20" font-style="normal" font-weight="normal" stroke="#000" stroke-width="0.303" style='font-family:"Liberation Serif",serif;text-rendering:geometricPrecision'>200</text>
<text transform="translate(366.22,115.10) scale(0.9562,1.0106)" font-size="20" font-style="normal" font-weight="normal" stroke="#000" stroke-width="0.297" style='font-family:"Liberation Serif",serif;text-rendering:geometricPrecision'>100</text>
<text transform="translate(374.50,155.79) scale(0.9691,0.9886)" font-size="20" font-style="normal" font-weight="normal" stroke="#000" stroke-width="0.303" style='font-family:"Liberation Serif",serif;text-rendering:geometricPrecision'>50</text>
<text transform="translate(384.78,253.69) scale(1.0488,1.0143)" font-size="20" font-style="normal" font-weight="normal" stroke="#000" stroke-width="0.286" style='font-family:"Liberation Serif",serif;text-rendering:geometricPrecision'>0</text>
<text transform="translate(416.88,269.29) scale(0.9507,0.9073)" font-size="20" font-style="normal" font-weight="normal" stroke="#000" stroke-width="0.316" style='font-family:"Liberation Serif",serif;text-rendering:geometricPrecision'>60</text>
<text transform="translate(473.87,269.45) scale(1.0282,0.9750)" font-size="20" font-style="normal" font-weight="normal" stroke="#000" stroke-width="0.292" style='font-family:"Liberation Serif",serif;text-rendering:geometricPrecision'>90</text>
<text transform="translate(528.15,269.73) scale(0.9488,0.9816)" font-size="20" font-style="normal" font-weight="normal" stroke="#000" stroke-width="0.306" style='font-family:"Liberation Serif",serif;text-rendering:geometricPrecision'>120</text>
<text transform="translate(591.78,269.84) scale(1.2158,1.1091)" font-size="22" font-style="italic" font-weight="normal" stroke="#fff" stroke-width="0.181" style='font-family:"Liberation Serif",serif;text-rendering:geometricPrecision'>F</text>
<text transform="translate(428.81,146.77) scale(1.0185,0.9436)" font-size="29" font-style="italic" font-weight="normal" stroke="#fff" stroke-width="0.216" style='font-family:"Liberation Serif",serif;text-rendering:geometricPrecision'>k1</text>
<text transform="translate(473.87,109.45) scale(0.9717,0.9476)" font-size="29" font-style="italic" font-weight="normal" stroke="#fff" stroke-width="0.226" style='font-family:"Liberation Serif",serif;text-rendering:geometricPrecision'>k2</text>
<text transform="translate(538.85,71.90) scale(0.9531,0.9465)" font-size="29" font-style="italic" font-weight="normal" stroke="#fff" stroke-width="0.231" style='font-family:"Liberation Serif",serif;text-rendering:geometricPrecision'>k3</text>
<text transform="translate(22.93,304.53) scale(1.0137,0.9462)" font-size="29" font-style="italic" font-weight="normal" stroke="#fff" stroke-width="0.217" style='font-family:"Liberation Serif",serif;text-rendering:geometricPrecision'>k1</text>
<text transform="translate(22.91,329.57) scale(0.9748,0.9018)" font-size="29" font-style="italic" font-weight="normal" stroke="#fff" stroke-width="0.226" style='font-family:"Liberation Serif",serif;text-rendering:geometricPrecision'>k2</text>
<text transform="translate(22.97,356.62) scale(0.9828,0.9065)" font-size="29" font-style="italic" font-weight="normal" stroke="#fff" stroke-width="0.224" style='font-family:"Liberation Serif",serif;text-rendering:geometricPrecision'>k3</text>
<text transform="translate(364.93,304.53) scale(1.0137,0.9462)" font-size="29" font-style="italic" font-weight="normal" stroke="#fff" stroke-width="0.217" style='font-family:"Liberation Serif",serif;text-rendering:geometricPrecision'>k1</text>
<text transform="translate(364.91,329.57) scale(0.9748,0.9018)" font-size="29" font-style="italic" font-weight="normal" stroke="#fff" stroke-width="0.226" style='font-family:"Liberation Serif",serif;text-rendering:geometricPrecision'>k2</text>
<text transform="translate(364.97,356.62) scale(0.9828,0.9065)" font-size="29" font-style="italic" font-weight="normal" stroke="#fff" stroke-width="0.224" style='font-family:"Liberation Serif",serif;text-rendering:geometricPrecision'>k3</text>
<text transform="translate(66.84,376.49) scale(0.7740,1.0358)" font-size="28" font-style="normal" font-weight="normal" stroke="#fff" stroke-width="0.212" style='font-family:"Liberation Serif",serif;text-rendering:geometricPrecision'>1</text>
<text transform="translate(126.18,376.16) scale(0.9578,0.9986)" font-size="28" font-style="normal" font-weight="normal" stroke="#fff" stroke-width="0.220" style='font-family:"Liberation Serif",serif;text-rendering:geometricPrecision'>#epoch</text>
<text transform="translate(240.05,375.94) scale(1.0238,0.9870)" font-size="28" font-style="normal" font-weight="normal" stroke="#fff" stroke-width="0.215" style='font-family:"Liberation Serif",serif;text-rendering:geometricPrecision'>50</text>
<text transform="translate(411.84,376.49) scale(0.7740,1.0358)" font-size="28" font-style="normal" font-weight="normal" stroke="#fff" stroke-width="0.212" style='font-family:"Liberation Serif",serif;text-rendering:geometricPrecision'>1</text>
<text transform="translate(469.31,376.17) scale(0.9587,0.9978)" font-size="28" font-style="normal" font-weight="normal" stroke="#fff" stroke-width="0.220" style='font-family:"Liberation Serif",serif;text-rendering:geometricPrecision'>#epoch</text>
<text transform="translate(580.04,375.95) scale(1.0120,0.9890)" font-size="28" font-style="normal" font-weight="normal" stroke="#fff" stroke-width="0.217" style='font-family:"Liberation Serif",serif;text-rendering:geometricPrecision'>50</text>
<text transform="translate(316.56,403.54) scale(0.9582,1.0487)" font-size="28" font-style="normal" font-weight="normal" stroke="#fff" stroke-width="0.210" style='font-family:"Liberation Serif",serif;text-rendering:geometricPrecision'>(a)</text>
<text transform="translate(11.58,461.96) scale(0.9651,1.0125)" font-size="19.5" font-style="normal" font-weight="normal" stroke="#000" stroke-width="0.296" style='font-family:"Liberation Serif",serif;text-rendering:geometricPrecision'>150</text>
<text transform="translate(11.86,507.44) scale(0.9593,1.0227)" font-size="19.5" font-style="normal" font-weight="normal" stroke="#000" stroke-width="0.293" style='font-family:"Liberation Serif",serif;text-rendering:geometricPrecision'>100</text>
<text transform="translate(20.34,553.39) scale(1.0030,0.9840)" font-size="19.5" font-style="normal" font-weight="normal" stroke="#000" stroke-width="0.299" style='font-family:"Liberation Serif",serif;text-rendering:geometricPrecision'>50</text>
<text transform="translate(29.65,599.57) scale(1.0595,1.0839)" font-size="19.5" font-style="normal" font-weight="normal" stroke="#000" stroke-width="0.277" style='font-family:"Liberation Serif",serif;text-rendering:geometricPrecision'>0</text>
<text transform="translate(65.91,608.57) scale(0.9783,0.9798)" font-size="19.5" font-style="normal" font-weight="normal" stroke="#000" stroke-width="0.306" style='font-family:"Liberation Serif",serif;text-rendering:geometricPrecision'>60</text>
<text transform="translate(104.62,608.41) scale(1.0131,0.9935)" font-size="19.5" font-style="normal" font-weight="normal" stroke="#000" stroke-width="0.296" style='font-family:"Liberation Serif",serif;text-rendering:geometricPrecision'>75</text>
<text transform="translate(144.39,608.59) scale(1.0201,0.9769)" font-size="19.5" font-style="normal" font-weight="normal" stroke="#000" stroke-width="0.294" style='font-family:"Liberation Serif",serif;text-rendering:geometricPrecision'>90</text>
<text transform="translate(179.31,608.52) scale(0.9667,1.0002)" font-size="19.5" font-style="normal" font-weight="normal" stroke="#000" stroke-width="0.300" style='font-family:"Liberation Serif",serif;text-rendering:geometricPrecision'>105</text>
<text transform="translate(208.97,608.53) scale(1.0934,1.0146)" font-size="19.5" font-style="normal" font-weight="normal" stroke="#fff" stroke-width="0.201" style='font-family:"Liberation Serif",serif;text-rendering:geometricPrecision'>F</text>
<text transform="translate(265.41,608.51) scale(1.0362,0.9777)" font-size="19.5" font-style="normal" font-weight="normal" stroke="#000" stroke-width="0.290" style='font-family:"Liberation Serif",serif;text-rendering:geometricPrecision'>60</text>
<text transform="translate(304.62,608.42) scale(1.0104,0.9914)" font-size="19.5" font-style="normal" font-weight="normal" stroke="#000" stroke-width="0.297" style='font-family:"Liberation Serif",serif;text-rendering:geometricPrecision'>75</text>
<text transform="translate(343.19,608.55) scale(1.0203,0.9833)" font-size="19.5" font-style="normal" font-weight="normal" stroke="#000" stroke-width="0.294" style='font-family:"Liberation Serif",serif;text-rendering:geometricPrecision'>90</text>
<text transform="translate(378.06,608.63) scale(0.9889,0.9967)" font-size="19.5" font-style="normal" font-weight="normal" stroke="#000" stroke-width="0.301" style='font-family:"Liberation Serif",serif;text-rendering:geometricPrecision'>105</text>
<text transform="translate(408.30,608.63) scale(1.0708,1.0031)" font-size="19.5" font-style="normal" font-weight="normal" stroke="#fff" stroke-width="0.205" style='font-family:"Liberation Serif",serif;text-rendering:geometricPrecision'>F</text>
<text transform="translate(480.11,608.47) scale(1.0132,0.9821)" font-size="19.5" font-style="normal" font-weight="normal" stroke="#000" stroke-width="0.296" style='font-family:"Liberation Serif",serif;text-rendering:geometricPrecision'>60</text>
<text transform="translate(519.41,608.26) scale(0.9977,1.0039)" font-size="19.5" font-style="normal" font-weight="normal" stroke="#000" stroke-width="0.299" style='font-family:"Liberation Serif",serif;text-rendering:geometricPrecision'>75</text>
<text transform="translate(557.44,608.58) scale(1.0212,0.9767)" font-size="19.5" font-style="normal" font-weight="normal" stroke="#000" stroke-width="0.294" style='font-family:"Liberation Serif",serif;text-rendering:geometricPrecision'>90</text>
<text transform="translate(594.16,608.54) scale(0.9344,1.0965)" font-size="19.5" font-style="normal" font-weight="normal" stroke="#000" stroke-width="0.274" style='font-family:"Liberation Serif",serif;text-rendering:geometricPrecision'>105</text>
<text transform="translate(621.58,609.49) scale(1.1425,1.1008)" font-size="19.5" font-style="normal" font-weight="normal" stroke="#fff" stroke-width="0.193" style='font-family:"Liberation Serif",serif;text-rendering:geometricPrecision'>F</text>
<text transform="translate(31.17,644.88) scale(0.9887,1.0400)" font-size="23" font-style="normal" font-weight="normal" stroke="#fff" stroke-width="0.212" style='font-family:"Liberation Serif",serif;text-rendering:geometricPrecision'>Time domain model</text>
<text transform="translate(25.45,671.33) scale(1.0005,1.0103)" font-size="23" font-style="normal" font-weight="normal" stroke="#fff" stroke-width="0.218" style='font-family:"Liberation Serif",serif;text-rendering:geometricPrecision'>+ Non-normalization</text>
<text transform="translate(240.16,644.89) scale(0.9877,1.0403)" font-size="23" font-style="normal" font-weight="normal" stroke="#fff" stroke-width="0.211" style='font-family:"Liberation Serif",serif;text-rendering:geometricPrecision'>Time domain model</text>
<text transform="translate(250.63,671.34) scale(0.9967,1.0085)" font-size="23" font-style="normal" font-weight="normal" stroke="#fff" stroke-width="0.218" style='font-family:"Liberation Serif",serif;text-rendering:geometricPrecision'>+ <tspan font-weight="bold">Normalization</tspan></text>
<text transform="translate(446.92,644.75) scale(0.9885,1.0190)" font-size="23" font-style="normal" font-weight="bold" stroke="#fff" stroke-width="0.216" style='font-family:"Liberation Serif",serif;text-rendering:geometricPrecision'>Frequency domain</text>
<text transform="translate(464.51,671.31) scale(1.0009,1.0090)" font-size="23" font-style="normal" font-weight="normal" stroke="#fff" stroke-width="0.218" style='font-family:"Liberation Serif",serif;text-rendering:geometricPrecision'>+ Normalization</text>
<text transform="translate(315.66,709.52) scale(0.9654,1.0254)" font-size="28" font-style="normal" font-weight="normal" stroke="#fff" stroke-width="0.215" style='font-family:"Liberation Serif",serif;text-rendering:geometricPrecision'>(b)</text>
</g>
</svg></body></html>
